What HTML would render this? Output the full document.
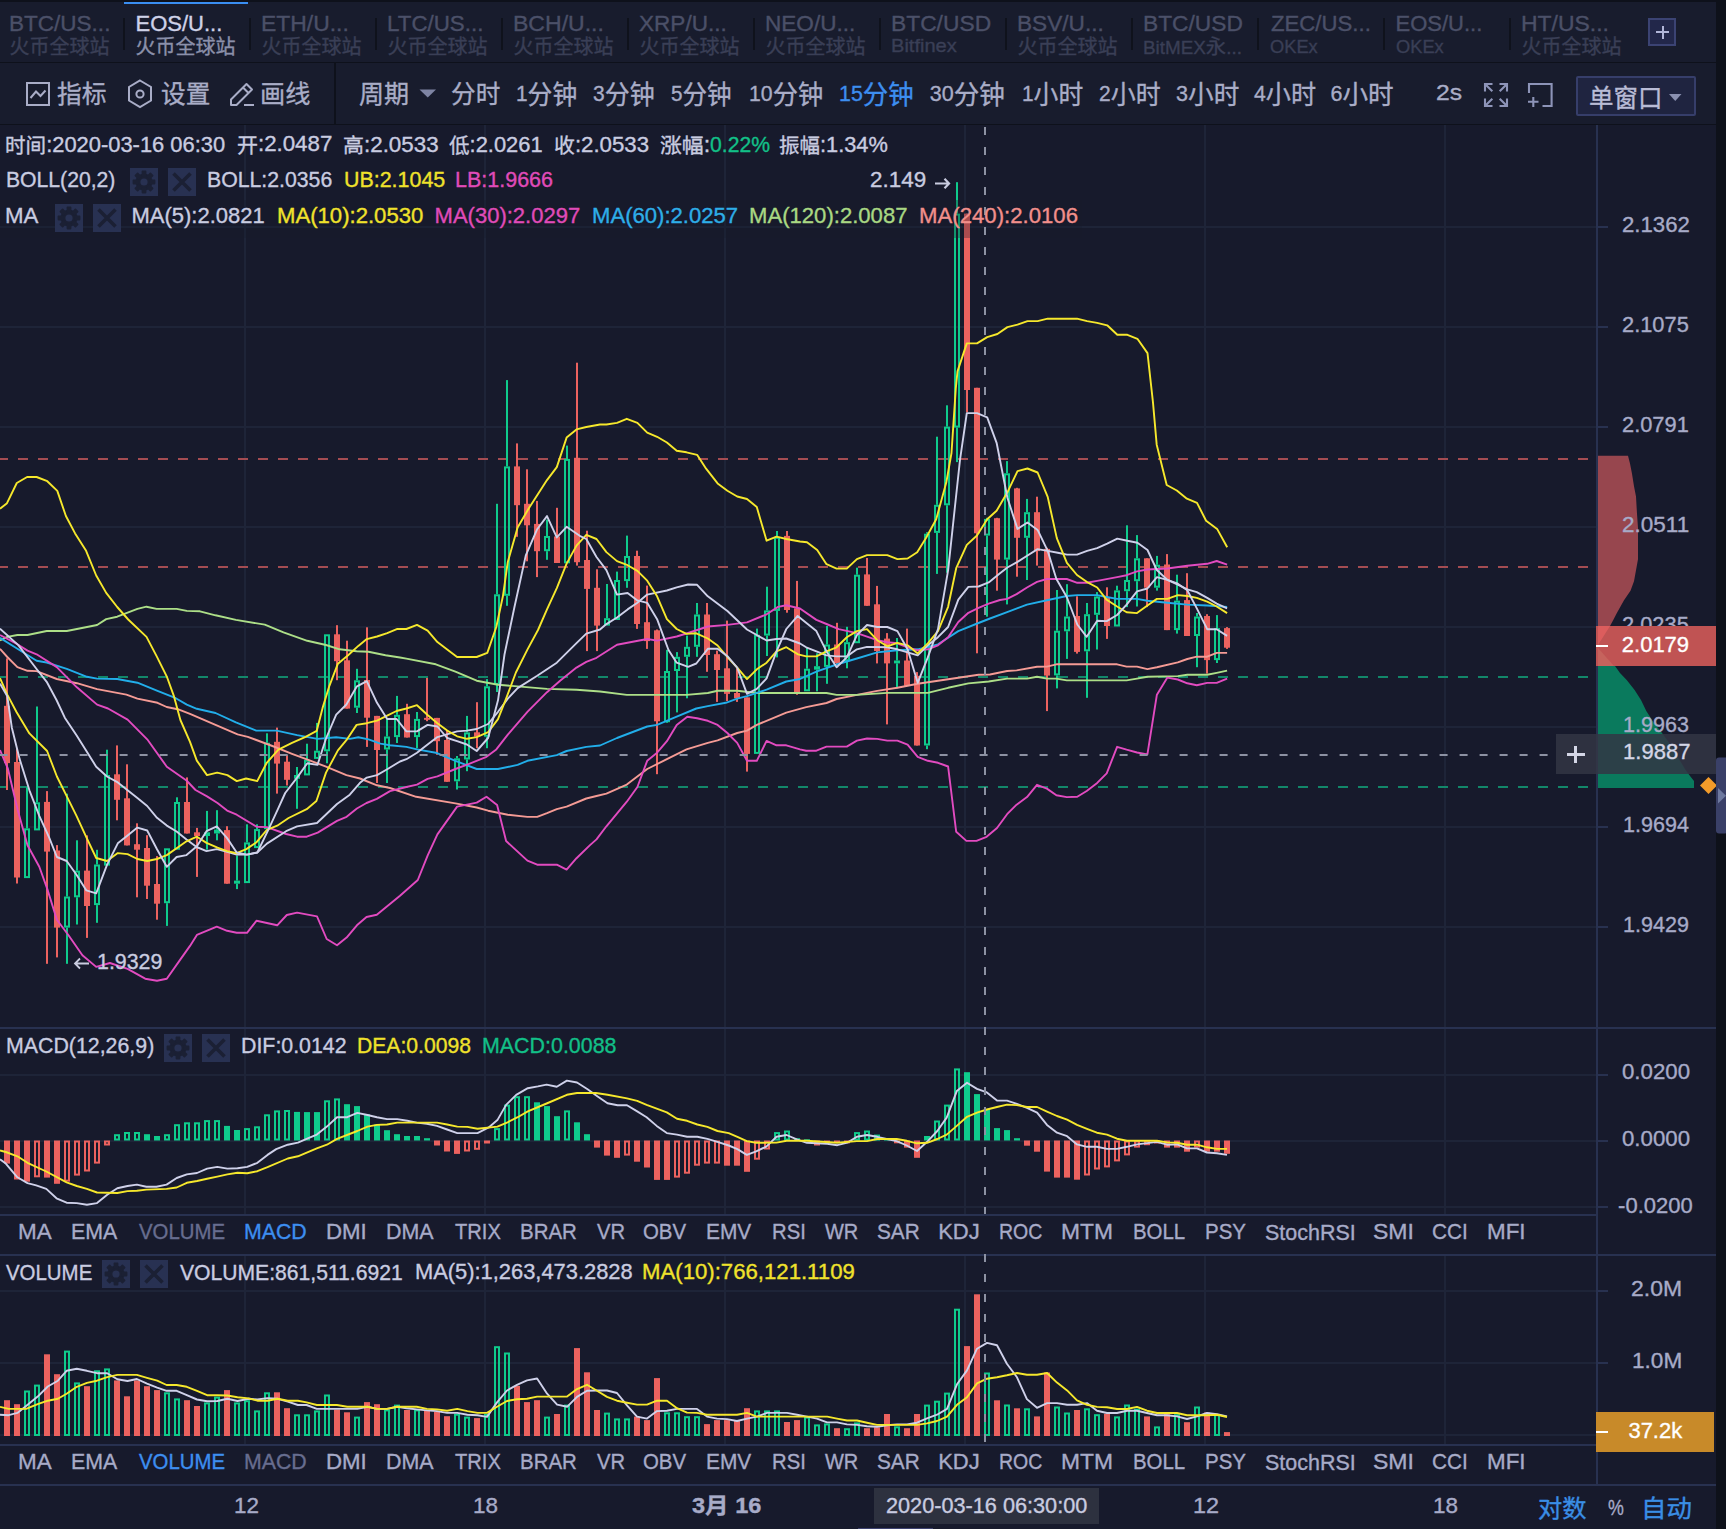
<!DOCTYPE html>
<html><head><meta charset="utf-8"><style>
*{margin:0;padding:0}
html,body{width:1726px;height:1529px;overflow:hidden;background:#171a2c}
body{position:relative;font-family:"Liberation Sans", "Noto Sans CJK SC", sans-serif}
.t{position:absolute;white-space:nowrap;line-height:1.25;font-family:"Liberation Sans", "Noto Sans CJK SC", sans-serif;transform-origin:0 0;-webkit-text-stroke:0.35px currentColor}
</style></head><body>
<div style="position:absolute;left:0px;top:0px;width:1726px;height:125px;background:#181c2d;"></div>
<div style="position:absolute;left:0px;top:0px;width:1726px;height:2px;background:#0e111b;"></div>
<div style="position:absolute;left:124px;top:2px;width:124px;height:2px;background:#3a8ef2;"></div>
<div class="t" style="left:9.48px;top:10.3px;font-size:22px;color:#4b5068;transform:scaleX(1.024);">BTC/US...</div>
<div class="t" style="left:9.5px;top:34.65px;font-size:20px;color:#3a3f56;">火币全球站</div>
<div class="t" style="left:135.5px;top:10.3px;font-size:22px;color:#cfd2e8;">EOS/U...</div>
<div class="t" style="left:135.5px;top:34.65px;font-size:20px;color:#8b90aa;">火币全球站</div>
<div class="t" style="left:261.46px;top:10.3px;font-size:22px;color:#4b5068;transform:scaleX(1.0415);">ETH/U...</div>
<div class="t" style="left:261.5px;top:34.65px;font-size:20px;color:#3a3f56;">火币全球站</div>
<div class="t" style="left:387.48px;top:10.3px;font-size:22px;color:#4b5068;transform:scaleX(1.0152);">LTC/US...</div>
<div class="t" style="left:387.5px;top:34.65px;font-size:20px;color:#3a3f56;">火币全球站</div>
<div class="t" style="left:513.45px;top:10.3px;font-size:22px;color:#4b5068;transform:scaleX(1.0476);">BCH/U...</div>
<div class="t" style="left:513.5px;top:34.65px;font-size:20px;color:#3a3f56;">火币全球站</div>
<div class="t" style="left:639.47px;top:10.3px;font-size:22px;color:#4b5068;transform:scaleX(1.0265);">XRP/U...</div>
<div class="t" style="left:639.5px;top:34.65px;font-size:20px;color:#3a3f56;">火币全球站</div>
<div class="t" style="left:765.47px;top:10.3px;font-size:22px;color:#4b5068;transform:scaleX(1.0259);">NEO/U...</div>
<div class="t" style="left:765.5px;top:34.65px;font-size:20px;color:#3a3f56;">火币全球站</div>
<div class="t" style="left:891.46px;top:10.3px;font-size:22px;color:#4b5068;transform:scaleX(1.0368);">BTC/USD</div>
<div class="t" style="left:891.41px;top:34.4px;font-size:18.5px;color:#3a3f56;transform:scaleX(1.085);">Bitfinex</div>
<div class="t" style="left:1017.47px;top:10.3px;font-size:22px;color:#4b5068;transform:scaleX(1.0293);">BSV/U...</div>
<div class="t" style="left:1017.5px;top:34.65px;font-size:20px;color:#3a3f56;">火币全球站</div>
<div class="t" style="left:1143.47px;top:10.3px;font-size:22px;color:#4b5068;transform:scaleX(1.0337);">BTC/USD</div>
<div class="t" style="left:1143.48px;top:34.5px;font-size:18.5px;color:#3a3f56;transform:scaleX(1.0189);">BitMEX<span style="font-size:1.08em;position:relative;top:0px">永</span>...</div>
<div class="t" style="left:1270.5px;top:10.3px;font-size:22px;color:#4b5068;transform:scaleX(1.0082);">ZEC/US...</div>
<div class="t" style="left:1269.51px;top:35.15px;font-size:18.5px;color:#3a3f56;transform:scaleX(0.9872);">OKEx</div>
<div class="t" style="left:1395.5px;top:10.3px;font-size:22px;color:#4b5068;">EOS/U...</div>
<div class="t" style="left:1395.51px;top:35.15px;font-size:18.5px;color:#3a3f56;transform:scaleX(0.9872);">OKEx</div>
<div class="t" style="left:1521.46px;top:10.3px;font-size:22px;color:#4b5068;transform:scaleX(1.0427);">HT/US...</div>
<div class="t" style="left:1521.5px;top:34.65px;font-size:20px;color:#3a3f56;">火币全球站</div>
<div style="position:absolute;left:123px;top:18px;width:2px;height:32px;background:#0f121c;"></div>
<div style="position:absolute;left:249px;top:18px;width:2px;height:32px;background:#0f121c;"></div>
<div style="position:absolute;left:375px;top:18px;width:2px;height:32px;background:#0f121c;"></div>
<div style="position:absolute;left:501px;top:18px;width:2px;height:32px;background:#0f121c;"></div>
<div style="position:absolute;left:627px;top:18px;width:2px;height:32px;background:#0f121c;"></div>
<div style="position:absolute;left:753px;top:18px;width:2px;height:32px;background:#0f121c;"></div>
<div style="position:absolute;left:879px;top:18px;width:2px;height:32px;background:#0f121c;"></div>
<div style="position:absolute;left:1005px;top:18px;width:2px;height:32px;background:#0f121c;"></div>
<div style="position:absolute;left:1131px;top:18px;width:2px;height:32px;background:#0f121c;"></div>
<div style="position:absolute;left:1257px;top:18px;width:2px;height:32px;background:#0f121c;"></div>
<div style="position:absolute;left:1383px;top:18px;width:2px;height:32px;background:#0f121c;"></div>
<div style="position:absolute;left:1509px;top:18px;width:2px;height:32px;background:#0f121c;"></div>
<div style="position:absolute;left:1648px;top:18px;width:28px;height:28px;background:#22274a;border:2px solid #3b4373;box-sizing:border-box"></div>
<div style="position:absolute;left:1656px;top:31px;width:13px;height:2px;background:#b0b5d8;"></div>
<div style="position:absolute;left:1661.5px;top:25.5px;width:2px;height:13px;background:#b0b5d8;"></div>
<div style="position:absolute;left:0px;top:62px;width:1726px;height:1px;background:#0e111b;"></div>
<div style="position:absolute;left:0px;top:124px;width:1726px;height:1px;background:#0e111b;"></div>
<div style="position:absolute;left:334px;top:63px;width:2px;height:61px;background:#0e111b;"></div>
<svg style="position:absolute;left:0;top:63px" width="340" height="61">
<rect x="27" y="20" width="22" height="22" fill="none" stroke="#a9adc7" stroke-width="2"/>
<polyline points="30.5,35 36,28.5 40.5,33 45.5,27.5" fill="none" stroke="#a9adc7" stroke-width="2"/>
<polygon points="140,17.5 151,24 151,37.5 140,44 129,37.5 129,24" fill="none" stroke="#a9adc7" stroke-width="2"/>
<circle cx="140" cy="31" r="3.6" fill="none" stroke="#a9adc7" stroke-width="2"/>
<path d="M231,42 L231,36.5 L246.5,21 L252,26.5 L236.5,42 Z M243,24.5 L248.5,30" fill="none" stroke="#a9adc7" stroke-width="2" stroke-linejoin="round"/>
<line x1="244" y1="42" x2="254" y2="42" stroke="#a9adc7" stroke-width="2"/>
</svg>
<div class="t" style="left:57.02px;top:79.45px;font-size:25.3px;color:#a9adc7;transform:scaleX(0.9796);">指标</div>
<div class="t" style="left:161.03px;top:78.95px;font-size:25.3px;color:#a9adc7;transform:scaleX(0.9735);">设置</div>
<div class="t" style="left:260.21px;top:79.45px;font-size:25.3px;color:#a9adc7;transform:scaleX(0.9937);">画线</div>
<div class="t" style="left:358.71px;top:78.95px;font-size:25.3px;color:#a9adc7;transform:scaleX(0.9917);">周期</div>
<div class="t" style="left:451.13px;top:79.45px;font-size:25.3px;color:#a9adc7;transform:scaleX(0.9735);">分时</div>
<div class="t" style="left:516.23px;top:76.95px;font-size:21.5px;color:#a9adc7;transform:scaleX(0.9689);">1<span style="font-size:1.19em;position:relative;top:3px">分钟</span></div>
<div class="t" style="left:593.12px;top:76.95px;font-size:21.5px;color:#a9adc7;transform:scaleX(0.977);">3<span style="font-size:1.19em;position:relative;top:3px">分钟</span></div>
<div class="t" style="left:671.24px;top:76.95px;font-size:21.5px;color:#a9adc7;transform:scaleX(0.9607);">5<span style="font-size:1.19em;position:relative;top:3px">分钟</span></div>
<div class="t" style="left:748.81px;top:76.95px;font-size:21.5px;color:#a9adc7;transform:scaleX(0.9877);">10<span style="font-size:1.19em;position:relative;top:3px">分钟</span></div>
<div class="t" style="left:929.8px;top:76.95px;font-size:21.5px;color:#a9adc7;">30<span style="font-size:1.19em;position:relative;top:3px">分钟</span></div>
<div class="t" style="left:1022.03px;top:77.45px;font-size:21.5px;color:#a9adc7;transform:scaleX(0.9689);">1<span style="font-size:1.19em;position:relative;top:3px">小时</span></div>
<div class="t" style="left:1098.52px;top:77.45px;font-size:21.5px;color:#a9adc7;transform:scaleX(0.977);">2<span style="font-size:1.19em;position:relative;top:3px">小时</span></div>
<div class="t" style="left:1175.5px;top:77.45px;font-size:21.5px;color:#a9adc7;transform:scaleX(1.0033);">3<span style="font-size:1.19em;position:relative;top:3px">小时</span></div>
<div class="t" style="left:1253.9px;top:77.45px;font-size:21.5px;color:#a9adc7;transform:scaleX(0.9823);">4<span style="font-size:1.19em;position:relative;top:3px">小时</span></div>
<div class="t" style="left:1330.5px;top:77.45px;font-size:21.5px;color:#a9adc7;">6<span style="font-size:1.19em;position:relative;top:3px">小时</span></div>
<div class="t" style="left:1435.85px;top:80.45px;font-size:21.5px;color:#a9adc7;transform:scaleX(1.1476);">2s</div>
<div class="t" style="left:839.41px;top:76.95px;font-size:21.5px;color:#3d8ef0;transform:scaleX(0.9945);">15<span style="font-size:1.19em;position:relative;top:3px">分钟</span></div>
<svg style="position:absolute;left:419px;top:89px" width="18" height="10"><polygon points="0.5,0.5 17,0.5 8.75,8.5" fill="#7e84a3"/></svg>
<svg style="position:absolute;left:1480px;top:80px" width="80" height="30">
<g stroke="#8d94b8" stroke-width="2.1" fill="none">
<path d="M5,11.5 L5,4 L12.5,4 M5,4 L12.3,11.3"/>
<path d="M27,11.5 L27,4 L19.5,4 M27,4 L19.7,11.3"/>
<path d="M5,18.5 L5,26 L12.5,26 M5,26 L12.3,18.7"/>
<path d="M27,18.5 L27,26 L19.5,26 M27,26 L19.7,18.7"/>
<path d="M49,13 L49,4 L71.6,4 L71.6,26 L62.5,26"/>
<path d="M53.3,17 L53.3,27 M48,21.8 L58.5,21.8"/>
</g></svg>
<div style="position:absolute;left:1576px;top:76px;width:120px;height:40px;background:#1f2440;border:2px solid #363e6a;box-sizing:border-box;border-radius:2px"></div>
<div class="t" style="left:1588.53px;top:83.35px;font-size:25.3px;color:#b9bcd6;transform:scaleX(0.9681);">单窗口</div>
<svg style="position:absolute;left:1669px;top:94px" width="14" height="8"><polygon points="0,0 12.5,0 6.25,7" fill="#8a90b0"/></svg>
<svg style="position:absolute;left:0;top:0" width="1726" height="1529"><rect x="244" y="125" width="2" height="902" fill="#1e2438"/><rect x="484" y="125" width="2" height="902" fill="#1e2438"/><rect x="724" y="125" width="2" height="902" fill="#1e2438"/><rect x="964" y="125" width="2" height="902" fill="#1e2438"/><rect x="1204" y="125" width="2" height="902" fill="#1e2438"/><rect x="1444" y="125" width="2" height="902" fill="#1e2438"/><rect x="244" y="1029" width="2" height="185" fill="#1e2438"/><rect x="484" y="1029" width="2" height="185" fill="#1e2438"/><rect x="724" y="1029" width="2" height="185" fill="#1e2438"/><rect x="964" y="1029" width="2" height="185" fill="#1e2438"/><rect x="1204" y="1029" width="2" height="185" fill="#1e2438"/><rect x="1444" y="1029" width="2" height="185" fill="#1e2438"/><rect x="244" y="1256" width="2" height="188" fill="#1e2438"/><rect x="484" y="1256" width="2" height="188" fill="#1e2438"/><rect x="724" y="1256" width="2" height="188" fill="#1e2438"/><rect x="964" y="1256" width="2" height="188" fill="#1e2438"/><rect x="1204" y="1256" width="2" height="188" fill="#1e2438"/><rect x="1444" y="1256" width="2" height="188" fill="#1e2438"/><rect x="0" y="226" width="1596" height="2" fill="#1e2438"/><rect x="1596" y="226" width="12" height="2" fill="#283150"/><rect x="0" y="326" width="1596" height="2" fill="#1e2438"/><rect x="1596" y="326" width="12" height="2" fill="#283150"/><rect x="0" y="426" width="1596" height="2" fill="#1e2438"/><rect x="1596" y="426" width="12" height="2" fill="#283150"/><rect x="0" y="526" width="1596" height="2" fill="#1e2438"/><rect x="1596" y="526" width="12" height="2" fill="#283150"/><rect x="0" y="626" width="1596" height="2" fill="#1e2438"/><rect x="1596" y="626" width="12" height="2" fill="#283150"/><rect x="0" y="726" width="1596" height="2" fill="#1e2438"/><rect x="1596" y="726" width="12" height="2" fill="#283150"/><rect x="0" y="826" width="1596" height="2" fill="#1e2438"/><rect x="1596" y="826" width="12" height="2" fill="#283150"/><rect x="0" y="926" width="1596" height="2" fill="#1e2438"/><rect x="1596" y="926" width="12" height="2" fill="#283150"/><rect x="0" y="1074" width="1596" height="2" fill="#1e2438"/><rect x="1596" y="1074" width="12" height="2" fill="#283150"/><rect x="0" y="1140" width="1596" height="2" fill="#1e2438"/><rect x="1596" y="1140" width="12" height="2" fill="#283150"/><rect x="0" y="1206" width="1596" height="2" fill="#1e2438"/><rect x="1596" y="1206" width="12" height="2" fill="#283150"/><rect x="0" y="1290" width="1596" height="2" fill="#1e2438"/><rect x="1596" y="1290" width="12" height="2" fill="#283150"/><rect x="0" y="1362" width="1596" height="2" fill="#1e2438"/><rect x="1596" y="1362" width="12" height="2" fill="#283150"/><rect x="0" y="1434" width="1596" height="2" fill="#1e2438"/><rect x="1596" y="1434" width="12" height="2" fill="#283150"/><rect x="0" y="1027" width="1716" height="2" fill="#283150"/><rect x="0" y="1214" width="1596" height="2" fill="#283150"/><rect x="0" y="1254" width="1716" height="2" fill="#283150"/><rect x="0" y="1444" width="1596" height="2" fill="#283150"/><rect x="0" y="1484" width="1716" height="2" fill="#283150"/><rect x="1596" y="125" width="2" height="1360" fill="#283150"/><rect x="1716" y="0" width="10" height="1529" fill="#0e111a"/><polygon points="1598.0,455.7 1628.0,455.7 1630.0,463.6 1632.0,473.8 1634.0,486.3 1636.0,496.5 1637.0,513.8 1638.0,527.9 1638.0,559.3 1636.0,570.3 1634.0,581.3 1630.5,590.7 1624.0,600.2 1617.0,612.7 1613.0,620.6 1610.0,626.0 1598.0,626.0" fill="#97464e"/><polygon points="1598.0,666.0 1615.0,666.0 1620.0,673.0 1626.7,680.0 1634.6,690.0 1641.0,700.0 1646.3,711.0 1654.0,723.0 1662.0,733.0 1670.0,744.0 1677.7,757.0 1685.6,770.0 1690.8,777.0 1694.0,781.0 1694.0,788.0 1598.0,788.0" fill="#0a7a5d"/><line x1="0" y1="459" x2="1592" y2="459" stroke="#a44c52" stroke-width="2" stroke-dasharray="10 10" stroke-dashoffset="2"/><line x1="0" y1="567" x2="1592" y2="567" stroke="#a44c52" stroke-width="2" stroke-dasharray="10 10" stroke-dashoffset="2"/><line x1="0" y1="677" x2="1592" y2="677" stroke="#12876a" stroke-width="2" stroke-dasharray="10 10" stroke-dashoffset="2"/><line x1="0" y1="787" x2="1592" y2="787" stroke="#12876a" stroke-width="2" stroke-dasharray="10 10" stroke-dashoffset="2"/><rect x="6" y="658.4" width="2" height="131.6" fill="#ec625f"/><rect x="4" y="705.8" width="6" height="57.3" fill="#ec625f"/><rect x="16" y="749.0" width="2" height="134.5" fill="#ec625f"/><rect x="14" y="762.0" width="6" height="115.5" fill="#ec625f"/><rect x="26" y="787.5" width="2" height="40.8" fill="#0fcb8c"/><rect x="25" y="829.3" width="4" height="47.8" fill="none" stroke="#0fcb8c" stroke-width="2"/><rect x="36" y="706.5" width="2" height="95.8" fill="#0fcb8c"/><rect x="35" y="803.3" width="4" height="26.1" fill="none" stroke="#0fcb8c" stroke-width="2"/><rect x="46" y="791.1" width="2" height="172.7" fill="#ec625f"/><rect x="44" y="801.9" width="6" height="49.7" fill="#ec625f"/><rect x="56" y="845.1" width="2" height="112.3" fill="#ec625f"/><rect x="54" y="850.5" width="6" height="77.1" fill="#ec625f"/><rect x="66" y="793.7" width="2" height="102.8" fill="#0fcb8c"/><rect x="66" y="927.6" width="2" height="36.2" fill="#0fcb8c"/><rect x="65" y="897.5" width="4" height="29.1" fill="none" stroke="#0fcb8c" stroke-width="2"/><rect x="76" y="840.3" width="2" height="30.3" fill="#0fcb8c"/><rect x="76" y="897.3" width="2" height="27.2" fill="#0fcb8c"/><rect x="75" y="871.6" width="4" height="24.7" fill="none" stroke="#0fcb8c" stroke-width="2"/><rect x="86" y="835.4" width="2" height="102.5" fill="#ec625f"/><rect x="84" y="870.6" width="6" height="35.4" fill="#ec625f"/><rect x="96" y="849.8" width="2" height="14.7" fill="#0fcb8c"/><rect x="96" y="905.1" width="2" height="17.7" fill="#0fcb8c"/><rect x="95" y="865.5" width="4" height="38.6" fill="none" stroke="#0fcb8c" stroke-width="2"/><rect x="106" y="749.7" width="2" height="25.3" fill="#0fcb8c"/><rect x="105" y="776.0" width="4" height="88.6" fill="none" stroke="#0fcb8c" stroke-width="2"/><rect x="116" y="745.4" width="2" height="74.9" fill="#ec625f"/><rect x="114" y="774.3" width="6" height="25.5" fill="#ec625f"/><rect x="126" y="764.3" width="2" height="81.1" fill="#ec625f"/><rect x="124" y="798.3" width="6" height="47.1" fill="#ec625f"/><rect x="136" y="823.3" width="2" height="74.0" fill="#ec625f"/><rect x="134" y="844.2" width="6" height="5.5" fill="#ec625f"/><rect x="146" y="835.2" width="2" height="63.8" fill="#ec625f"/><rect x="144" y="848.0" width="6" height="37.7" fill="#ec625f"/><rect x="156" y="856.1" width="2" height="63.6" fill="#ec625f"/><rect x="154" y="884.0" width="6" height="19.7" fill="#ec625f"/><rect x="166" y="903.2" width="2" height="22.7" fill="#0fcb8c"/><rect x="165" y="849.3" width="4" height="52.9" fill="none" stroke="#0fcb8c" stroke-width="2"/><rect x="176" y="797.3" width="2" height="4.7" fill="#0fcb8c"/><rect x="175" y="803.0" width="4" height="45.7" fill="none" stroke="#0fcb8c" stroke-width="2"/><rect x="186" y="777.4" width="2" height="56.1" fill="#ec625f"/><rect x="184" y="802.0" width="6" height="31.5" fill="#ec625f"/><rect x="196" y="827.9" width="2" height="49.0" fill="#ec625f"/><rect x="194" y="832.3" width="6" height="3.7" fill="#ec625f"/><rect x="206" y="810.9" width="2" height="21.4" fill="#0fcb8c"/><rect x="206" y="836.0" width="2" height="13.7" fill="#0fcb8c"/><rect x="204" y="832.3" width="6" height="3.7" fill="#0fcb8c"/><rect x="216" y="810.2" width="2" height="19.4" fill="#0fcb8c"/><rect x="216" y="833.5" width="2" height="6.8" fill="#0fcb8c"/><rect x="214" y="829.6" width="6" height="3.9" fill="#0fcb8c"/><rect x="226" y="826.2" width="2" height="57.5" fill="#ec625f"/><rect x="224" y="830.1" width="6" height="53.6" fill="#ec625f"/><rect x="236" y="855.5" width="2" height="25.1" fill="#0fcb8c"/><rect x="236" y="883.7" width="2" height="5.4" fill="#0fcb8c"/><rect x="234" y="880.6" width="6" height="3.1" fill="#0fcb8c"/><rect x="246" y="824.3" width="2" height="18.1" fill="#0fcb8c"/><rect x="245" y="843.4" width="4" height="38.7" fill="none" stroke="#0fcb8c" stroke-width="2"/><rect x="256" y="824.3" width="2" height="4.8" fill="#0fcb8c"/><rect x="255" y="830.1" width="4" height="17.0" fill="none" stroke="#0fcb8c" stroke-width="2"/><rect x="266" y="733.3" width="2" height="9.5" fill="#0fcb8c"/><rect x="265" y="743.8" width="4" height="84.3" fill="none" stroke="#0fcb8c" stroke-width="2"/><rect x="276" y="727.6" width="2" height="66.0" fill="#ec625f"/><rect x="274" y="741.8" width="6" height="21.8" fill="#ec625f"/><rect x="286" y="755.1" width="2" height="30.4" fill="#ec625f"/><rect x="284" y="761.7" width="6" height="18.1" fill="#ec625f"/><rect x="296" y="767.0" width="2" height="8.0" fill="#0fcb8c"/><rect x="296" y="778.8" width="2" height="30.0" fill="#0fcb8c"/><rect x="294" y="775.0" width="6" height="3.8" fill="#0fcb8c"/><rect x="306" y="743.7" width="2" height="16.1" fill="#0fcb8c"/><rect x="305" y="760.8" width="4" height="13.6" fill="none" stroke="#0fcb8c" stroke-width="2"/><rect x="316" y="722.9" width="2" height="27.8" fill="#0fcb8c"/><rect x="315" y="751.7" width="4" height="6.2" fill="none" stroke="#0fcb8c" stroke-width="2"/><rect x="326" y="751.3" width="2" height="12.0" fill="#0fcb8c"/><rect x="325" y="635.3" width="4" height="115.0" fill="none" stroke="#0fcb8c" stroke-width="2"/><rect x="336" y="625.2" width="2" height="55.0" fill="#ec625f"/><rect x="334" y="634.3" width="6" height="26.9" fill="#ec625f"/><rect x="346" y="640.7" width="2" height="67.9" fill="#ec625f"/><rect x="344" y="660.3" width="6" height="48.3" fill="#ec625f"/><rect x="356" y="668.8" width="2" height="11.5" fill="#0fcb8c"/><rect x="356" y="707.7" width="2" height="5.3" fill="#0fcb8c"/><rect x="355" y="681.3" width="4" height="25.4" fill="none" stroke="#0fcb8c" stroke-width="2"/><rect x="366" y="627.3" width="2" height="119.6" fill="#ec625f"/><rect x="364" y="680.0" width="6" height="37.7" fill="#ec625f"/><rect x="376" y="715.9" width="2" height="67.1" fill="#ec625f"/><rect x="374" y="715.9" width="6" height="34.1" fill="#ec625f"/><rect x="386" y="718.9" width="2" height="17.6" fill="#0fcb8c"/><rect x="386" y="749.5" width="2" height="33.5" fill="#0fcb8c"/><rect x="385" y="737.5" width="4" height="11.0" fill="none" stroke="#0fcb8c" stroke-width="2"/><rect x="396" y="695.9" width="2" height="18.9" fill="#0fcb8c"/><rect x="396" y="737.1" width="2" height="5.9" fill="#0fcb8c"/><rect x="395" y="715.8" width="4" height="20.3" fill="none" stroke="#0fcb8c" stroke-width="2"/><rect x="406" y="703.8" width="2" height="33.7" fill="#ec625f"/><rect x="404" y="714.2" width="6" height="23.3" fill="#ec625f"/><rect x="416" y="712.0" width="2" height="6.9" fill="#0fcb8c"/><rect x="416" y="737.1" width="2" height="11.2" fill="#0fcb8c"/><rect x="415" y="719.9" width="4" height="16.2" fill="none" stroke="#0fcb8c" stroke-width="2"/><rect x="426" y="677.9" width="2" height="43.3" fill="#ec625f"/><rect x="424" y="717.9" width="6" height="1.9" fill="#ec625f"/><rect x="436" y="717.9" width="2" height="36.9" fill="#ec625f"/><rect x="434" y="717.9" width="6" height="23.3" fill="#ec625f"/><rect x="446" y="730.6" width="2" height="51.2" fill="#ec625f"/><rect x="444" y="740.0" width="6" height="41.8" fill="#ec625f"/><rect x="456" y="756.0" width="2" height="2.3" fill="#0fcb8c"/><rect x="456" y="781.3" width="2" height="8.2" fill="#0fcb8c"/><rect x="455" y="759.3" width="4" height="21.0" fill="none" stroke="#0fcb8c" stroke-width="2"/><rect x="466" y="715.9" width="2" height="16.5" fill="#0fcb8c"/><rect x="466" y="759.5" width="2" height="11.7" fill="#0fcb8c"/><rect x="465" y="733.4" width="4" height="25.1" fill="none" stroke="#0fcb8c" stroke-width="2"/><rect x="476" y="702.2" width="2" height="46.0" fill="#ec625f"/><rect x="474" y="732.3" width="6" height="4.4" fill="#ec625f"/><rect x="486" y="679.1" width="2" height="7.2" fill="#0fcb8c"/><rect x="486" y="736.7" width="2" height="11.5" fill="#0fcb8c"/><rect x="485" y="687.3" width="4" height="48.4" fill="none" stroke="#0fcb8c" stroke-width="2"/><rect x="496" y="503.8" width="2" height="90.5" fill="#0fcb8c"/><rect x="496" y="684.9" width="2" height="7.1" fill="#0fcb8c"/><rect x="495" y="595.3" width="4" height="88.6" fill="none" stroke="#0fcb8c" stroke-width="2"/><rect x="506" y="380.1" width="2" height="86.3" fill="#0fcb8c"/><rect x="506" y="595.8" width="2" height="10.0" fill="#0fcb8c"/><rect x="505" y="467.4" width="4" height="127.4" fill="none" stroke="#0fcb8c" stroke-width="2"/><rect x="516" y="443.4" width="2" height="93.4" fill="#ec625f"/><rect x="514" y="466.4" width="6" height="38.8" fill="#ec625f"/><rect x="526" y="469.3" width="2" height="92.0" fill="#ec625f"/><rect x="524" y="503.8" width="6" height="21.5" fill="#ec625f"/><rect x="536" y="500.9" width="2" height="76.2" fill="#ec625f"/><rect x="534" y="523.9" width="6" height="27.3" fill="#ec625f"/><rect x="546" y="519.6" width="2" height="16.4" fill="#0fcb8c"/><rect x="546" y="551.2" width="2" height="8.6" fill="#0fcb8c"/><rect x="545" y="537.0" width="4" height="13.2" fill="none" stroke="#0fcb8c" stroke-width="2"/><rect x="556" y="507.8" width="2" height="55.2" fill="#ec625f"/><rect x="554" y="536.5" width="6" height="26.5" fill="#ec625f"/><rect x="566" y="445.6" width="2" height="13.3" fill="#0fcb8c"/><rect x="565" y="459.9" width="4" height="102.4" fill="none" stroke="#0fcb8c" stroke-width="2"/><rect x="576" y="362.7" width="2" height="202.9" fill="#ec625f"/><rect x="574" y="457.8" width="6" height="104.4" fill="#ec625f"/><rect x="586" y="530.7" width="2" height="120.4" fill="#ec625f"/><rect x="584" y="560.0" width="6" height="28.9" fill="#ec625f"/><rect x="596" y="569.3" width="2" height="81.8" fill="#ec625f"/><rect x="594" y="587.8" width="6" height="37.8" fill="#ec625f"/><rect x="606" y="584.0" width="2" height="34.2" fill="#0fcb8c"/><rect x="605" y="619.2" width="4" height="5.4" fill="none" stroke="#0fcb8c" stroke-width="2"/><rect x="616" y="571.6" width="2" height="8.4" fill="#0fcb8c"/><rect x="615" y="581.0" width="4" height="38.0" fill="none" stroke="#0fcb8c" stroke-width="2"/><rect x="626" y="535.6" width="2" height="20.4" fill="#0fcb8c"/><rect x="626" y="581.1" width="2" height="6.7" fill="#0fcb8c"/><rect x="625" y="557.0" width="4" height="23.1" fill="none" stroke="#0fcb8c" stroke-width="2"/><rect x="636" y="550.7" width="2" height="78.2" fill="#ec625f"/><rect x="634" y="556.0" width="6" height="68.0" fill="#ec625f"/><rect x="646" y="585.6" width="2" height="63.3" fill="#ec625f"/><rect x="644" y="622.2" width="6" height="18.9" fill="#ec625f"/><rect x="656" y="629.5" width="2" height="144.7" fill="#ec625f"/><rect x="654" y="630.3" width="6" height="91.0" fill="#ec625f"/><rect x="666" y="649.8" width="2" height="21.2" fill="#0fcb8c"/><rect x="666" y="722.2" width="2" height="0.8" fill="#0fcb8c"/><rect x="665" y="672.0" width="4" height="49.2" fill="none" stroke="#0fcb8c" stroke-width="2"/><rect x="676" y="652.1" width="2" height="4.7" fill="#0fcb8c"/><rect x="676" y="671.0" width="2" height="41.4" fill="#0fcb8c"/><rect x="675" y="657.8" width="4" height="12.2" fill="none" stroke="#0fcb8c" stroke-width="2"/><rect x="686" y="635.6" width="2" height="11.2" fill="#0fcb8c"/><rect x="686" y="656.8" width="2" height="41.5" fill="#0fcb8c"/><rect x="685" y="647.8" width="4" height="8.0" fill="none" stroke="#0fcb8c" stroke-width="2"/><rect x="696" y="603.0" width="2" height="11.5" fill="#0fcb8c"/><rect x="696" y="646.8" width="2" height="10.0" fill="#0fcb8c"/><rect x="695" y="615.5" width="4" height="30.3" fill="none" stroke="#0fcb8c" stroke-width="2"/><rect x="706" y="603.0" width="2" height="68.8" fill="#ec625f"/><rect x="704" y="614.5" width="6" height="40.5" fill="#ec625f"/><rect x="716" y="650.6" width="2" height="51.3" fill="#ec625f"/><rect x="714" y="654.2" width="6" height="15.8" fill="#ec625f"/><rect x="726" y="620.6" width="2" height="80.4" fill="#ec625f"/><rect x="724" y="668.3" width="6" height="25.6" fill="#ec625f"/><rect x="736" y="668.3" width="2" height="33.6" fill="#ec625f"/><rect x="734" y="693.0" width="6" height="5.3" fill="#ec625f"/><rect x="746" y="697.4" width="2" height="74.2" fill="#ec625f"/><rect x="744" y="697.4" width="6" height="56.5" fill="#ec625f"/><rect x="756" y="628.6" width="2" height="6.2" fill="#0fcb8c"/><rect x="755" y="635.8" width="4" height="117.1" fill="none" stroke="#0fcb8c" stroke-width="2"/><rect x="766" y="586.7" width="2" height="23.7" fill="#0fcb8c"/><rect x="766" y="635.6" width="2" height="20.4" fill="#0fcb8c"/><rect x="765" y="611.4" width="4" height="23.2" fill="none" stroke="#0fcb8c" stroke-width="2"/><rect x="776" y="531.0" width="2" height="5.8" fill="#0fcb8c"/><rect x="776" y="610.9" width="2" height="46.5" fill="#0fcb8c"/><rect x="775" y="537.8" width="4" height="72.1" fill="none" stroke="#0fcb8c" stroke-width="2"/><rect x="786" y="531.0" width="2" height="81.7" fill="#ec625f"/><rect x="784" y="535.9" width="6" height="74.1" fill="#ec625f"/><rect x="796" y="580.9" width="2" height="113.9" fill="#ec625f"/><rect x="794" y="608.3" width="6" height="83.8" fill="#ec625f"/><rect x="806" y="648.0" width="2" height="20.7" fill="#0fcb8c"/><rect x="805" y="669.7" width="4" height="20.6" fill="none" stroke="#0fcb8c" stroke-width="2"/><rect x="816" y="653.3" width="2" height="12.9" fill="#0fcb8c"/><rect x="816" y="669.7" width="2" height="21.6" fill="#0fcb8c"/><rect x="814" y="666.2" width="6" height="3.5" fill="#0fcb8c"/><rect x="826" y="625.9" width="2" height="18.6" fill="#0fcb8c"/><rect x="826" y="666.9" width="2" height="16.9" fill="#0fcb8c"/><rect x="825" y="645.5" width="4" height="20.4" fill="none" stroke="#0fcb8c" stroke-width="2"/><rect x="836" y="622.8" width="2" height="42.0" fill="#ec625f"/><rect x="834" y="644.5" width="6" height="18.5" fill="#ec625f"/><rect x="846" y="626.8" width="2" height="15.4" fill="#0fcb8c"/><rect x="846" y="661.2" width="2" height="7.1" fill="#0fcb8c"/><rect x="845" y="643.2" width="4" height="17.0" fill="none" stroke="#0fcb8c" stroke-width="2"/><rect x="856" y="567.7" width="2" height="7.0" fill="#0fcb8c"/><rect x="855" y="575.7" width="4" height="66.5" fill="none" stroke="#0fcb8c" stroke-width="2"/><rect x="866" y="558.0" width="2" height="47.8" fill="#ec625f"/><rect x="864" y="574.4" width="6" height="31.4" fill="#ec625f"/><rect x="876" y="585.9" width="2" height="77.5" fill="#ec625f"/><rect x="874" y="604.3" width="6" height="46.7" fill="#ec625f"/><rect x="886" y="633.1" width="2" height="91.3" fill="#ec625f"/><rect x="884" y="638.6" width="6" height="24.8" fill="#ec625f"/><rect x="896" y="638.0" width="2" height="22.5" fill="#0fcb8c"/><rect x="896" y="663.4" width="2" height="24.9" fill="#0fcb8c"/><rect x="894" y="660.5" width="6" height="2.9" fill="#0fcb8c"/><rect x="906" y="628.6" width="2" height="57.2" fill="#ec625f"/><rect x="904" y="660.5" width="6" height="25.3" fill="#ec625f"/><rect x="916" y="672.1" width="2" height="73.4" fill="#ec625f"/><rect x="914" y="675.9" width="6" height="69.6" fill="#ec625f"/><rect x="926" y="532.2" width="2" height="1.5" fill="#0fcb8c"/><rect x="926" y="745.5" width="2" height="3.7" fill="#0fcb8c"/><rect x="925" y="534.7" width="4" height="209.8" fill="none" stroke="#0fcb8c" stroke-width="2"/><rect x="936" y="436.7" width="2" height="68.1" fill="#0fcb8c"/><rect x="936" y="532.9" width="2" height="41.0" fill="#0fcb8c"/><rect x="935" y="505.8" width="4" height="26.1" fill="none" stroke="#0fcb8c" stroke-width="2"/><rect x="946" y="405.3" width="2" height="21.3" fill="#0fcb8c"/><rect x="946" y="505.3" width="2" height="67.4" fill="#0fcb8c"/><rect x="945" y="427.6" width="4" height="76.7" fill="none" stroke="#0fcb8c" stroke-width="2"/><rect x="956" y="182.2" width="2" height="31.4" fill="#0fcb8c"/><rect x="956" y="427.6" width="2" height="34.5" fill="#0fcb8c"/><rect x="955" y="214.6" width="4" height="212.0" fill="none" stroke="#0fcb8c" stroke-width="2"/><rect x="966" y="213.6" width="2" height="198.8" fill="#ec625f"/><rect x="964" y="213.6" width="6" height="176.4" fill="#ec625f"/><rect x="976" y="387.8" width="2" height="265.5" fill="#ec625f"/><rect x="974" y="387.8" width="6" height="145.5" fill="#ec625f"/><rect x="986" y="517.8" width="2" height="1.1" fill="#0fcb8c"/><rect x="986" y="535.6" width="2" height="81.1" fill="#0fcb8c"/><rect x="985" y="519.9" width="4" height="14.7" fill="none" stroke="#0fcb8c" stroke-width="2"/><rect x="996" y="517.8" width="2" height="72.9" fill="#ec625f"/><rect x="994" y="518.2" width="6" height="41.4" fill="#ec625f"/><rect x="1006" y="461.1" width="2" height="12.2" fill="#0fcb8c"/><rect x="1006" y="559.6" width="2" height="44.8" fill="#0fcb8c"/><rect x="1005" y="474.3" width="4" height="84.3" fill="none" stroke="#0fcb8c" stroke-width="2"/><rect x="1016" y="487.8" width="2" height="88.9" fill="#ec625f"/><rect x="1014" y="488.4" width="6" height="49.4" fill="#ec625f"/><rect x="1026" y="498.9" width="2" height="13.3" fill="#0fcb8c"/><rect x="1026" y="537.8" width="2" height="42.2" fill="#0fcb8c"/><rect x="1025" y="513.2" width="4" height="23.6" fill="none" stroke="#0fcb8c" stroke-width="2"/><rect x="1036" y="496.7" width="2" height="68.9" fill="#ec625f"/><rect x="1034" y="512.2" width="6" height="38.9" fill="#ec625f"/><rect x="1046" y="547.8" width="2" height="163.3" fill="#ec625f"/><rect x="1044" y="548.9" width="6" height="126.7" fill="#ec625f"/><rect x="1056" y="590.0" width="2" height="40.7" fill="#0fcb8c"/><rect x="1056" y="675.4" width="2" height="13.0" fill="#0fcb8c"/><rect x="1055" y="631.7" width="4" height="42.7" fill="none" stroke="#0fcb8c" stroke-width="2"/><rect x="1066" y="584.2" width="2" height="32.3" fill="#0fcb8c"/><rect x="1066" y="631.3" width="2" height="27.6" fill="#0fcb8c"/><rect x="1065" y="617.5" width="4" height="12.8" fill="none" stroke="#0fcb8c" stroke-width="2"/><rect x="1076" y="596.3" width="2" height="57.3" fill="#ec625f"/><rect x="1074" y="616.0" width="6" height="35.9" fill="#ec625f"/><rect x="1086" y="603.0" width="2" height="11.2" fill="#0fcb8c"/><rect x="1086" y="651.3" width="2" height="46.5" fill="#0fcb8c"/><rect x="1085" y="615.2" width="4" height="35.1" fill="none" stroke="#0fcb8c" stroke-width="2"/><rect x="1096" y="592.1" width="2" height="4.4" fill="#0fcb8c"/><rect x="1096" y="614.8" width="2" height="34.7" fill="#0fcb8c"/><rect x="1095" y="597.5" width="4" height="16.3" fill="none" stroke="#0fcb8c" stroke-width="2"/><rect x="1106" y="587.3" width="2" height="51.6" fill="#ec625f"/><rect x="1104" y="597.7" width="6" height="28.3" fill="#ec625f"/><rect x="1116" y="585.7" width="2" height="4.7" fill="#0fcb8c"/><rect x="1115" y="591.4" width="4" height="34.1" fill="none" stroke="#0fcb8c" stroke-width="2"/><rect x="1126" y="525.3" width="2" height="54.7" fill="#0fcb8c"/><rect x="1126" y="591.2" width="2" height="15.9" fill="#0fcb8c"/><rect x="1125" y="581.0" width="4" height="9.2" fill="none" stroke="#0fcb8c" stroke-width="2"/><rect x="1136" y="535.1" width="2" height="23.2" fill="#0fcb8c"/><rect x="1136" y="581.2" width="2" height="25.3" fill="#0fcb8c"/><rect x="1135" y="559.3" width="4" height="20.9" fill="none" stroke="#0fcb8c" stroke-width="2"/><rect x="1146" y="558.3" width="2" height="48.8" fill="#ec625f"/><rect x="1144" y="558.3" width="6" height="29.4" fill="#ec625f"/><rect x="1156" y="555.9" width="2" height="8.8" fill="#0fcb8c"/><rect x="1156" y="587.7" width="2" height="2.9" fill="#0fcb8c"/><rect x="1155" y="565.7" width="4" height="21.0" fill="none" stroke="#0fcb8c" stroke-width="2"/><rect x="1166" y="554.1" width="2" height="76.0" fill="#ec625f"/><rect x="1164" y="564.5" width="6" height="65.6" fill="#ec625f"/><rect x="1176" y="574.7" width="2" height="25.9" fill="#0fcb8c"/><rect x="1176" y="630.1" width="2" height="3.5" fill="#0fcb8c"/><rect x="1175" y="601.6" width="4" height="27.5" fill="none" stroke="#0fcb8c" stroke-width="2"/><rect x="1186" y="573.2" width="2" height="62.8" fill="#ec625f"/><rect x="1184" y="600.1" width="6" height="35.9" fill="#ec625f"/><rect x="1196" y="613.0" width="2" height="3.5" fill="#0fcb8c"/><rect x="1196" y="636.0" width="2" height="31.2" fill="#0fcb8c"/><rect x="1195" y="617.5" width="4" height="17.5" fill="none" stroke="#0fcb8c" stroke-width="2"/><rect x="1206" y="614.2" width="2" height="59.4" fill="#ec625f"/><rect x="1204" y="616.0" width="6" height="44.1" fill="#ec625f"/><rect x="1216" y="615.1" width="2" height="13.0" fill="#0fcb8c"/><rect x="1216" y="660.1" width="2" height="2.9" fill="#0fcb8c"/><rect x="1215" y="629.1" width="4" height="30.0" fill="none" stroke="#0fcb8c" stroke-width="2"/><rect x="1226" y="627.1" width="2" height="21.8" fill="#ec625f"/><rect x="1224" y="628.1" width="6" height="19.6" fill="#ec625f"/><polyline points="0.0,648.8 7.3,657.0 17.4,667.1 27.5,670.8 36.6,671.1 56.8,679.0 76.9,683.2 97.1,689.1 126.4,694.6 137.4,698.6 157.5,702.8 166.7,707.0 177.7,709.2 190.0,713.9 215.5,724.9 237.6,734.3 247.8,736.8 275.0,747.0 292.0,753.8 305.6,758.9 326.0,766.6 346.4,775.1 360.0,778.5 377.0,785.3 390.0,788.0 416.2,796.8 455.4,803.4 476.7,807.5 488.1,810.7 507.8,814.8 527.4,816.9 537.2,816.9 547.0,813.2 556.8,809.1 566.6,806.6 586.3,798.5 596.5,796.0 606.4,793.6 626.8,784.6 647.2,769.0 666.9,759.2 686.5,749.4 707.8,742.9 717.6,740.4 737.2,733.0 747.0,730.6 756.8,724.9 786.3,712.6 806.2,707.1 826.5,703.0 836.6,699.0 856.9,694.9 877.2,690.9 897.4,687.8 917.7,683.8 938.0,680.8 958.3,677.7 978.5,674.7 990.0,674.5 1007.1,671.0 1016.6,670.4 1037.0,666.8 1046.9,666.6 1056.4,664.3 1117.1,664.3 1126.6,666.6 1137.0,666.6 1147.4,669.1 1156.9,667.2 1177.8,662.4 1187.3,659.0 1196.8,656.7 1207.2,656.7 1216.7,652.9 1227.1,652.9" fill="none" stroke="#f59b95" stroke-width="1.9" stroke-linejoin="round"/><polyline points="0.0,640.5 7.3,636.9 17.4,635.0 27.5,635.0 46.7,631.0 66.8,631.0 97.1,625.0 106.2,619.1 117.2,616.7 137.4,608.9 146.5,606.7 156.6,608.9 176.7,608.9 186.8,610.9 200.0,611.3 215.5,615.3 235.9,619.9 264.8,624.6 283.5,632.3 307.3,640.8 326.0,645.0 339.6,649.3 356.6,651.3 368.5,651.8 385.5,655.2 400.0,657.5 406.4,658.6 435.8,664.3 455.4,671.7 476.7,680.7 498.0,684.8 517.6,686.4 547.0,688.9 576.5,689.7 600.0,691.5 626.8,694.9 686.5,694.9 707.8,693.0 717.6,690.8 737.2,690.8 756.8,693.0 800.0,693.0 826.5,693.0 836.6,694.9 856.9,694.9 887.3,692.9 927.8,692.9 948.1,687.8 968.4,683.4 988.7,681.5 1007.1,678.6 1027.0,678.6 1037.0,676.7 1046.9,678.6 1056.4,678.6 1066.8,680.4 1126.6,680.4 1137.0,678.6 1147.4,676.7 1177.8,676.1 1187.3,674.8 1207.2,674.8 1216.7,672.9 1227.1,670.6" fill="none" stroke="#addf88" stroke-width="1.9" stroke-linejoin="round"/><polyline points="0.0,637.8 17.4,648.8 36.6,660.7 46.7,662.5 66.8,668.9 87.0,676.8 97.1,678.6 117.2,679.0 137.4,682.7 157.5,690.9 175.8,698.2 186.8,704.6 196.8,708.8 215.5,713.0 235.9,722.4 256.3,730.6 276.7,730.6 297.1,735.1 317.5,738.9 336.2,737.2 349.8,738.9 358.3,737.2 368.5,739.4 380.4,743.6 390.0,745.3 406.4,746.9 417.0,749.4 435.8,752.7 455.4,760.8 476.7,769.0 498.0,769.0 517.6,764.9 527.4,760.8 556.8,755.1 566.6,751.0 586.3,746.9 600.0,745.5 617.0,738.0 647.2,726.5 657.1,724.9 676.7,716.7 696.3,708.5 707.8,706.1 725.8,702.8 737.2,698.7 747.0,696.2 766.6,689.7 786.3,681.5 800.0,679.0 816.4,671.6 836.6,664.5 856.9,658.5 877.2,652.4 897.4,650.3 917.7,649.3 938.0,644.3 958.3,631.1 978.5,623.0 990.0,618.5 1007.1,612.2 1027.0,604.6 1046.9,600.2 1066.8,596.0 1077.3,595.1 1097.2,595.1 1106.7,597.0 1117.1,598.9 1137.0,598.9 1147.4,600.8 1167.4,602.7 1187.3,604.6 1207.2,605.5 1227.1,606.9" fill="none" stroke="#22aeea" stroke-width="1.9" stroke-linejoin="round"/><polyline points="0.0,635.0 17.4,644.2 27.5,650.6 36.6,654.3 56.8,667.1 76.9,687.3 97.1,704.6 108.0,708.5 127.6,719.6 147.2,739.3 166.8,766.7 186.5,780.5 195.5,790.0 207.0,796.4 217.5,803.0 227.1,810.6 236.7,814.7 256.6,826.8 266.9,827.1 286.1,834.0 297.1,836.7 306.7,836.7 317.7,832.6 337.0,820.9 346.6,816.8 356.9,808.5 366.5,803.0 376.8,798.9 390.0,791.1 406.4,787.0 417.0,784.6 427.6,778.8 437.4,776.4 455.4,769.0 468.5,764.1 486.5,756.8 496.3,749.4 507.8,734.7 527.4,711.8 547.0,692.2 560.1,680.7 576.5,667.6 586.3,661.9 596.5,657.8 617.0,644.7 647.2,639.0 657.1,640.6 676.7,636.5 688.1,633.0 707.8,626.5 727.4,624.9 747.0,622.4 766.6,614.3 778.1,606.9 786.3,605.3 800.0,608.5 816.4,619.9 826.5,624.0 838.7,629.1 856.9,633.1 877.2,640.2 887.3,642.2 897.4,643.3 907.6,647.3 917.7,650.3 927.8,649.3 938.0,645.3 948.1,637.2 958.3,622.0 968.4,612.8 978.5,607.8 988.7,603.7 1000.0,600.0 1007.1,598.9 1016.6,594.1 1027.0,587.5 1037.0,581.8 1046.9,579.0 1066.8,579.0 1077.3,582.8 1086.7,582.8 1097.2,580.9 1117.1,577.1 1126.6,575.2 1137.0,571.4 1147.4,569.5 1167.4,568.5 1187.3,565.7 1207.2,563.8 1216.7,561.0 1227.1,564.7" fill="none" stroke="#e24bc0" stroke-width="1.9" stroke-linejoin="round"/><polyline points="0.0,628.6 18.3,645.1 36.6,669.0 46.7,681.8 56.5,700.0 64.8,717.7 76.5,735.3 86.4,751.0 96.2,766.7 107.0,776.5 117.8,782.4 127.6,790.3 137.4,798.1 147.2,806.0 157.0,817.8 166.8,825.6 176.6,831.5 186.5,839.4 196.6,847.0 206.5,851.1 216.8,849.1 227.1,851.8 236.7,854.6 247.0,854.6 257.3,852.5 266.9,843.6 286.1,831.2 297.1,826.4 317.0,823.0 327.3,813.3 337.0,804.0 349.8,794.7 360.0,782.8 366.8,777.6 377.0,775.1 387.2,769.2 400.0,761.5 406.4,759.2 417.0,752.7 427.6,744.5 437.4,737.1 457.1,731.4 466.9,730.6 476.7,729.0 488.1,724.0 498.0,711.8 507.8,698.7 517.6,688.1 537.2,675.8 556.8,662.7 576.5,643.1 586.3,633.6 600.0,629.5 606.4,624.1 617.0,617.5 627.6,609.4 637.4,602.8 647.2,594.6 666.9,590.5 676.7,587.3 688.1,584.5 697.1,584.8 707.8,596.3 727.4,611.0 747.0,629.5 766.6,640.5 776.5,639.0 786.3,638.5 800.0,643.5 806.2,647.3 816.4,651.4 826.5,655.4 836.6,656.4 846.8,656.4 856.9,649.3 867.0,646.9 887.3,647.3 897.4,649.3 907.6,652.4 917.7,655.4 927.8,645.3 938.0,637.2 948.1,627.0 958.3,599.7 968.4,586.9 978.5,586.5 988.7,582.4 1000.0,573.3 1007.4,567.5 1017.5,561.9 1027.5,555.5 1037.6,549.1 1047.7,550.9 1057.8,552.7 1066.9,554.6 1077.0,554.6 1087.1,550.9 1097.1,548.2 1107.2,543.6 1117.3,538.6 1127.4,540.8 1137.4,542.7 1147.5,550.0 1156.8,570.0 1167.4,579.9 1177.8,584.7 1187.3,589.4 1196.8,592.2 1207.2,597.9 1216.7,603.6 1227.1,608.4" fill="none" stroke="#cfd1ea" stroke-width="1.9" stroke-linejoin="round"/><polyline points="0.0,750.0 7.9,768.7 17.7,809.9 27.5,845.2 39.3,866.8 47.1,888.4 56.9,919.8 68.7,935.5 82.4,955.2 96.2,966.9 109.9,963.0 127.6,968.9 145.2,978.7 157.0,980.7 166.8,978.7 180.6,959.1 190.0,945.9 196.9,934.9 216.8,926.7 227.1,930.8 236.7,932.8 247.0,932.8 256.6,920.7 277.2,925.3 286.8,915.0 297.1,912.6 317.0,916.4 326.7,939.0 337.0,945.2 346.6,937.6 356.9,925.3 366.5,917.0 376.8,914.7 400.0,895.8 417.8,880.0 427.6,855.7 437.4,834.4 457.1,806.6 476.7,802.6 486.5,796.8 497.1,805.0 506.1,841.0 527.4,860.6 537.2,864.7 556.8,864.7 566.6,869.6 576.5,858.2 590.0,845.1 596.5,839.4 606.4,826.3 626.8,801.7 637.4,787.0 647.2,760.8 657.1,752.7 666.9,741.2 676.7,724.9 687.3,716.7 697.1,718.3 707.8,720.8 717.6,724.9 727.4,733.0 737.2,742.9 747.0,760.8 756.8,760.8 766.6,740.9 776.5,745.3 786.3,745.3 800.0,749.4 806.2,750.7 816.4,750.7 826.5,746.6 846.8,746.6 856.9,740.6 867.0,738.5 877.2,738.9 887.3,740.6 897.4,740.6 907.6,744.6 917.7,756.8 927.8,760.8 938.0,762.8 948.1,766.5 956.2,831.8 966.4,840.9 976.5,840.9 986.6,836.8 997.0,828.0 1007.1,814.2 1016.6,804.7 1027.0,797.1 1037.0,784.8 1046.9,788.6 1056.4,795.2 1066.8,797.1 1077.3,796.7 1086.7,791.0 1097.2,782.9 1106.7,773.4 1117.1,746.8 1126.6,749.7 1137.0,752.5 1147.4,754.4 1156.9,694.7 1167.4,677.6 1177.8,679.5 1187.3,683.3 1196.8,685.2 1207.2,682.9 1216.7,682.9 1227.1,678.6" fill="none" stroke="#e24bc0" stroke-width="1.9" stroke-linejoin="round"/><polyline points="0.0,508.7 7.0,503.2 16.8,483.0 27.1,477.0 36.6,477.0 47.3,481.2 57.3,490.9 65.9,516.0 75.1,533.4 86.1,550.8 96.2,575.5 106.2,592.9 117.2,607.0 128.2,619.5 146.5,636.9 156.6,656.1 166.7,676.3 174.0,696.4 180.4,720.0 190.0,741.9 196.8,760.6 207.0,775.1 217.2,772.6 227.4,775.1 236.8,781.1 246.1,778.5 257.2,781.1 266.5,763.2 278.4,749.6 292.0,742.8 305.6,736.8 316.7,730.9 322.6,707.9 329.4,685.8 337.9,663.7 348.1,655.2 358.3,645.9 366.8,639.1 377.0,636.5 387.2,633.1 397.4,628.9 406.4,629.0 417.0,624.9 427.6,630.6 437.4,642.1 447.2,649.5 457.1,657.0 476.7,657.0 487.3,652.9 496.3,627.0 502.9,596.3 507.8,561.9 517.6,527.6 529.0,508.0 547.0,480.1 556.8,467.1 566.6,437.6 576.5,429.4 586.3,427.0 600.0,424.5 606.4,424.5 617.0,422.9 626.8,418.8 637.4,422.9 647.2,432.7 657.1,436.8 666.9,442.5 676.7,450.7 686.5,452.3 697.1,454.8 706.1,468.7 717.6,483.4 727.4,490.8 737.2,496.5 747.0,499.0 756.8,507.1 766.6,540.7 776.5,536.6 786.3,539.0 800.0,541.5 807.0,542.3 817.2,550.0 826.5,564.2 836.6,568.6 846.8,568.6 856.9,559.1 867.0,555.1 887.3,555.1 897.4,559.1 907.6,558.5 917.2,552.2 926.0,538.0 936.2,519.3 946.4,481.9 951.5,453.0 955.8,388.4 957.5,371.4 966.8,343.4 977.0,343.4 987.2,337.1 997.4,334.0 1007.4,327.1 1017.5,324.7 1027.5,321.1 1037.6,321.1 1047.7,318.7 1077.0,318.7 1087.1,321.1 1097.1,322.9 1107.2,325.3 1117.3,334.8 1127.4,334.8 1137.4,338.8 1147.5,353.1 1153.0,402.6 1156.7,444.7 1166.7,485.0 1176.8,490.5 1186.9,498.7 1197.0,502.9 1206.1,520.7 1217.1,528.9 1227.2,547.3" fill="none" stroke="#f6e82c" stroke-width="1.9" stroke-linejoin="round"/><polyline points="0.0,678.1 7.3,694.6 16.5,712.0 29.4,733.4 47.1,751.0 56.9,776.5 66.7,796.2 76.5,815.8 86.4,837.4 96.2,858.0 107.0,861.0 117.8,853.1 127.6,854.1 137.4,859.0 147.2,861.0 157.0,859.0 166.8,855.1 176.6,848.2 186.5,841.3 196.9,836.7 206.5,842.9 217.5,847.7 227.1,851.1 236.7,853.2 246.3,849.1 256.6,842.2 266.9,829.8 277.2,825.7 288.6,818.0 306.7,809.2 316.4,801.0 326.0,772.6 337.9,750.4 346.4,740.2 356.6,724.9 366.8,723.2 377.0,720.7 387.2,715.6 396.5,711.0 406.4,708.5 417.0,705.2 427.6,715.0 437.4,723.2 447.2,730.6 457.1,736.3 466.9,738.8 476.7,737.1 488.1,732.2 498.0,719.1 506.1,698.7 515.9,672.5 527.4,649.6 538.0,630.0 547.0,609.4 556.8,588.1 566.6,563.6 576.5,545.6 586.3,534.9 596.5,539.0 606.4,552.1 617.0,561.1 627.6,565.2 637.4,570.9 647.2,580.7 657.1,596.3 666.9,619.2 676.7,629.0 686.5,633.9 696.3,633.3 707.8,638.5 717.6,645.5 727.4,657.0 737.2,667.6 747.0,679.1 756.8,669.3 766.6,662.7 776.5,651.3 786.3,647.2 798.1,654.4 806.2,656.4 816.4,656.4 826.5,651.4 836.6,647.3 846.8,637.2 856.9,631.1 867.0,629.1 877.2,640.2 887.3,646.3 897.4,642.8 907.6,645.3 917.7,653.4 927.8,643.3 938.0,631.1 948.1,606.8 956.2,568.2 966.8,544.9 977.0,535.5 987.2,519.3 996.6,510.8 1007.4,492.3 1017.5,471.2 1027.5,468.5 1037.6,472.5 1047.7,496.9 1056.8,538.1 1066.9,562.8 1077.0,575.0 1086.7,581.8 1097.2,587.5 1106.7,599.8 1117.1,606.5 1126.6,612.2 1137.0,613.1 1147.4,605.5 1156.9,598.9 1167.4,598.9 1177.8,595.1 1187.3,596.0 1196.8,597.9 1207.2,601.7 1216.7,606.5 1227.1,613.1" fill="none" stroke="#f6e82c" stroke-width="1.9" stroke-linejoin="round"/><polyline points="0.0,683.6 7.3,696.4 11.8,727.5 19.6,758.9 29.4,790.3 39.3,815.8 49.1,837.4 56.9,857.0 66.7,861.0 76.5,874.7 86.4,890.4 96.2,893.3 107.0,864.9 117.8,843.3 127.6,835.4 137.4,827.6 147.2,830.5 157.0,849.2 166.8,866.8 176.6,857.0 186.5,855.1 196.9,846.3 206.5,831.2 216.8,826.4 227.1,838.1 236.7,852.5 247.0,854.6 257.3,852.5 268.3,829.8 277.9,809.2 285.2,793.0 297.1,777.6 307.3,763.2 317.5,764.9 326.0,738.5 336.2,714.7 346.4,704.5 356.6,686.7 366.8,681.1 377.0,702.8 387.2,719.0 396.6,719.0 406.4,731.4 417.0,731.4 427.6,724.9 437.4,726.5 447.2,738.0 457.1,741.2 466.9,744.5 476.7,751.0 488.1,738.0 498.0,700.3 504.5,654.5 514.3,607.7 525.8,555.4 537.2,529.2 547.0,516.1 556.8,537.4 566.6,526.8 579.7,535.8 586.3,539.0 596.5,557.0 606.4,570.1 617.0,594.6 627.6,593.0 637.4,600.4 647.2,602.8 657.1,619.2 668.5,650.0 676.7,662.7 688.1,666.8 696.3,663.5 707.8,648.8 717.6,648.8 727.4,656.2 737.2,667.6 747.0,693.8 756.8,688.9 766.6,678.3 776.5,651.3 786.3,629.0 797.7,615.9 816.4,631.1 826.5,651.4 836.6,667.2 846.8,657.4 856.9,635.1 867.0,625.0 877.2,627.0 887.3,627.0 897.4,631.1 907.6,649.3 917.7,682.8 927.8,657.4 938.0,629.1 948.1,570.3 960.0,459.8 966.8,413.1 977.0,413.1 987.2,417.3 996.6,442.8 1007.4,497.8 1017.5,528.9 1027.5,522.5 1037.6,529.9 1047.7,550.9 1056.4,579.0 1066.8,597.0 1077.3,624.5 1086.7,636.8 1097.2,620.7 1106.7,621.1 1117.1,615.0 1126.6,604.6 1137.0,591.3 1147.4,588.5 1156.9,577.1 1167.4,579.9 1177.8,583.7 1187.3,590.3 1196.8,608.4 1207.2,629.2 1216.7,629.2 1227.1,635.9" fill="none" stroke="#cfd1ea" stroke-width="1.9" stroke-linejoin="round"/><rect x="4" y="1140.5" width="6" height="23.1" fill="#ec625f"/><rect x="14" y="1140.5" width="6" height="39.0" fill="#ec625f"/><rect x="24" y="1140.5" width="6" height="41.2" fill="#ec625f"/><rect x="35" y="1141.5" width="4" height="34.8" fill="none" stroke="#ec625f" stroke-width="2"/><rect x="44" y="1140.5" width="6" height="37.1" fill="#ec625f"/><rect x="54" y="1140.5" width="6" height="43.3" fill="#ec625f"/><rect x="65" y="1141.5" width="4" height="39.2" fill="none" stroke="#ec625f" stroke-width="2"/><rect x="75" y="1141.5" width="4" height="33.1" fill="none" stroke="#ec625f" stroke-width="2"/><rect x="85" y="1141.5" width="4" height="29.0" fill="none" stroke="#ec625f" stroke-width="2"/><rect x="95" y="1141.5" width="4" height="21.1" fill="none" stroke="#ec625f" stroke-width="2"/><rect x="105" y="1141.5" width="4" height="3.0" fill="none" stroke="#ec625f" stroke-width="2"/><rect x="115" y="1135.2" width="4" height="4.3" fill="none" stroke="#0fcb8c" stroke-width="2"/><rect x="125" y="1133.0" width="4" height="6.5" fill="none" stroke="#0fcb8c" stroke-width="2"/><rect x="135" y="1133.0" width="4" height="6.5" fill="none" stroke="#0fcb8c" stroke-width="2"/><rect x="144" y="1134.2" width="6" height="6.3" fill="#0fcb8c"/><rect x="154" y="1136.0" width="6" height="4.5" fill="#0fcb8c"/><rect x="165" y="1135.2" width="4" height="4.3" fill="none" stroke="#0fcb8c" stroke-width="2"/><rect x="175" y="1125.2" width="4" height="14.3" fill="none" stroke="#0fcb8c" stroke-width="2"/><rect x="185" y="1123.3" width="4" height="16.2" fill="none" stroke="#0fcb8c" stroke-width="2"/><rect x="195" y="1123.3" width="4" height="16.2" fill="none" stroke="#0fcb8c" stroke-width="2"/><rect x="205" y="1121.1" width="4" height="18.4" fill="none" stroke="#0fcb8c" stroke-width="2"/><rect x="215" y="1121.1" width="4" height="18.4" fill="none" stroke="#0fcb8c" stroke-width="2"/><rect x="224" y="1125.9" width="6" height="14.6" fill="#0fcb8c"/><rect x="234" y="1130.0" width="6" height="10.5" fill="#0fcb8c"/><rect x="245" y="1129.1" width="4" height="10.4" fill="none" stroke="#0fcb8c" stroke-width="2"/><rect x="255" y="1127.3" width="4" height="12.2" fill="none" stroke="#0fcb8c" stroke-width="2"/><rect x="265" y="1115.3" width="4" height="24.2" fill="none" stroke="#0fcb8c" stroke-width="2"/><rect x="275" y="1111.4" width="4" height="28.1" fill="none" stroke="#0fcb8c" stroke-width="2"/><rect x="285" y="1111.0" width="4" height="28.5" fill="none" stroke="#0fcb8c" stroke-width="2"/><rect x="294" y="1111.9" width="6" height="28.6" fill="#0fcb8c"/><rect x="304" y="1112.1" width="6" height="28.4" fill="#0fcb8c"/><rect x="314" y="1112.1" width="6" height="28.4" fill="#0fcb8c"/><rect x="325" y="1101.3" width="4" height="38.2" fill="none" stroke="#0fcb8c" stroke-width="2"/><rect x="335" y="1099.4" width="4" height="40.1" fill="none" stroke="#0fcb8c" stroke-width="2"/><rect x="344" y="1104.2" width="6" height="36.3" fill="#0fcb8c"/><rect x="354" y="1106.1" width="6" height="34.4" fill="#0fcb8c"/><rect x="364" y="1114.3" width="6" height="26.2" fill="#0fcb8c"/><rect x="374" y="1124.5" width="6" height="16.0" fill="#0fcb8c"/><rect x="384" y="1130.2" width="6" height="10.3" fill="#0fcb8c"/><rect x="394" y="1134.2" width="6" height="6.3" fill="#0fcb8c"/><rect x="404" y="1136.0" width="6" height="4.5" fill="#0fcb8c"/><rect x="414" y="1136.0" width="6" height="4.5" fill="#0fcb8c"/><rect x="424" y="1138.2" width="6" height="2.3" fill="#0fcb8c"/><rect x="434" y="1140.5" width="6" height="5.0" fill="#ec625f"/><rect x="444" y="1140.5" width="6" height="11.0" fill="#ec625f"/><rect x="454" y="1140.5" width="6" height="13.4" fill="#ec625f"/><rect x="465" y="1141.5" width="4" height="9.0" fill="none" stroke="#ec625f" stroke-width="2"/><rect x="475" y="1141.5" width="4" height="7.3" fill="none" stroke="#ec625f" stroke-width="2"/><rect x="484" y="1140.5" width="6" height="3.0" fill="#ec625f"/><rect x="495" y="1129.1" width="4" height="10.4" fill="none" stroke="#0fcb8c" stroke-width="2"/><rect x="505" y="1105.6" width="4" height="33.9" fill="none" stroke="#0fcb8c" stroke-width="2"/><rect x="515" y="1097.2" width="4" height="42.3" fill="none" stroke="#0fcb8c" stroke-width="2"/><rect x="525" y="1097.2" width="4" height="42.3" fill="none" stroke="#0fcb8c" stroke-width="2"/><rect x="534" y="1102.3" width="6" height="38.2" fill="#0fcb8c"/><rect x="544" y="1106.1" width="6" height="34.4" fill="#0fcb8c"/><rect x="554" y="1116.2" width="6" height="24.3" fill="#0fcb8c"/><rect x="565" y="1111.4" width="4" height="28.1" fill="none" stroke="#0fcb8c" stroke-width="2"/><rect x="574" y="1122.3" width="6" height="18.2" fill="#0fcb8c"/><rect x="584" y="1134.2" width="6" height="6.3" fill="#0fcb8c"/><rect x="594" y="1140.5" width="6" height="7.1" fill="#ec625f"/><rect x="604" y="1140.5" width="6" height="15.1" fill="#ec625f"/><rect x="614" y="1140.5" width="6" height="17.3" fill="#ec625f"/><rect x="625" y="1141.5" width="4" height="13.1" fill="none" stroke="#ec625f" stroke-width="2"/><rect x="634" y="1140.5" width="6" height="21.2" fill="#ec625f"/><rect x="644" y="1140.5" width="6" height="27.0" fill="#ec625f"/><rect x="654" y="1140.5" width="6" height="39.4" fill="#ec625f"/><rect x="664" y="1140.5" width="6" height="39.4" fill="#ec625f"/><rect x="675" y="1141.5" width="4" height="35.1" fill="none" stroke="#ec625f" stroke-width="2"/><rect x="685" y="1141.5" width="4" height="31.2" fill="none" stroke="#ec625f" stroke-width="2"/><rect x="695" y="1141.5" width="4" height="23.2" fill="none" stroke="#ec625f" stroke-width="2"/><rect x="705" y="1141.5" width="4" height="21.1" fill="none" stroke="#ec625f" stroke-width="2"/><rect x="715" y="1141.5" width="4" height="21.1" fill="none" stroke="#ec625f" stroke-width="2"/><rect x="724" y="1140.5" width="6" height="25.2" fill="#ec625f"/><rect x="734" y="1140.5" width="6" height="25.2" fill="#ec625f"/><rect x="744" y="1140.5" width="6" height="31.3" fill="#ec625f"/><rect x="755" y="1141.5" width="4" height="17.2" fill="none" stroke="#ec625f" stroke-width="2"/><rect x="765" y="1141.5" width="4" height="7.0" fill="none" stroke="#ec625f" stroke-width="2"/><rect x="775" y="1133.1" width="4" height="6.4" fill="none" stroke="#0fcb8c" stroke-width="2"/><rect x="785" y="1131.5" width="4" height="8.0" fill="none" stroke="#0fcb8c" stroke-width="2"/><rect x="794" y="1138.2" width="6" height="2.3" fill="#0fcb8c"/><rect x="804" y="1139.3" width="6" height="1.5" fill="#0fcb8c"/><rect x="814" y="1140.5" width="6" height="5.0" fill="#ec625f"/><rect x="824" y="1140.5" width="6" height="1.5" fill="#ec625f"/><rect x="834" y="1140.5" width="6" height="2.1" fill="#ec625f"/><rect x="844" y="1140.5" width="6" height="2.8" fill="#ec625f"/><rect x="855" y="1133.1" width="4" height="6.4" fill="none" stroke="#0fcb8c" stroke-width="2"/><rect x="865" y="1131.5" width="4" height="8.0" fill="none" stroke="#0fcb8c" stroke-width="2"/><rect x="874" y="1134.6" width="6" height="5.9" fill="#0fcb8c"/><rect x="884" y="1139.0" width="6" height="1.5" fill="#0fcb8c"/><rect x="894" y="1140.5" width="6" height="2.8" fill="#ec625f"/><rect x="904" y="1140.5" width="6" height="7.1" fill="#ec625f"/><rect x="914" y="1140.5" width="6" height="17.3" fill="#ec625f"/><rect x="924" y="1136.0" width="6" height="4.5" fill="#0fcb8c"/><rect x="935" y="1121.5" width="4" height="18.0" fill="none" stroke="#0fcb8c" stroke-width="2"/><rect x="945" y="1105.6" width="4" height="33.9" fill="none" stroke="#0fcb8c" stroke-width="2"/><rect x="955" y="1069.4" width="4" height="70.1" fill="none" stroke="#0fcb8c" stroke-width="2"/><rect x="964" y="1072.2" width="6" height="68.3" fill="#0fcb8c"/><rect x="974" y="1094.1" width="6" height="46.4" fill="#0fcb8c"/><rect x="984" y="1109.5" width="6" height="31.0" fill="#0fcb8c"/><rect x="994" y="1128.1" width="6" height="12.4" fill="#0fcb8c"/><rect x="1004" y="1130.1" width="6" height="10.4" fill="#0fcb8c"/><rect x="1014" y="1138.2" width="6" height="2.3" fill="#0fcb8c"/><rect x="1024" y="1140.5" width="6" height="5.2" fill="#ec625f"/><rect x="1034" y="1140.5" width="6" height="11.2" fill="#ec625f"/><rect x="1044" y="1140.5" width="6" height="31.1" fill="#ec625f"/><rect x="1054" y="1140.5" width="6" height="37.1" fill="#ec625f"/><rect x="1064" y="1140.5" width="6" height="37.1" fill="#ec625f"/><rect x="1074" y="1140.5" width="6" height="39.2" fill="#ec625f"/><rect x="1085" y="1141.5" width="4" height="33.0" fill="none" stroke="#ec625f" stroke-width="2"/><rect x="1095" y="1141.5" width="4" height="27.0" fill="none" stroke="#ec625f" stroke-width="2"/><rect x="1105" y="1141.5" width="4" height="24.9" fill="none" stroke="#ec625f" stroke-width="2"/><rect x="1115" y="1141.5" width="4" height="18.9" fill="none" stroke="#ec625f" stroke-width="2"/><rect x="1125" y="1141.5" width="4" height="12.9" fill="none" stroke="#ec625f" stroke-width="2"/><rect x="1135" y="1141.5" width="4" height="5.1" fill="none" stroke="#ec625f" stroke-width="2"/><rect x="1145" y="1141.5" width="4" height="2.7" fill="none" stroke="#ec625f" stroke-width="2"/><rect x="1154" y="1140.5" width="6" height="3.0" fill="#ec625f"/><rect x="1164" y="1140.5" width="6" height="7.1" fill="#ec625f"/><rect x="1174" y="1140.5" width="6" height="7.1" fill="#ec625f"/><rect x="1184" y="1140.5" width="6" height="11.2" fill="#ec625f"/><rect x="1195" y="1141.5" width="4" height="5.1" fill="none" stroke="#ec625f" stroke-width="2"/><rect x="1204" y="1140.5" width="6" height="11.2" fill="#ec625f"/><rect x="1214" y="1140.5" width="6" height="11.2" fill="#ec625f"/><rect x="1224" y="1140.5" width="6" height="13.3" fill="#ec625f"/><polyline points="0.0,1159.2 5.8,1163.6 17.4,1177.3 27.5,1183.1 36.2,1185.3 46.3,1188.9 56.5,1198.3 66.6,1202.7 76.8,1203.1 86.9,1204.8 97.0,1203.1 107.2,1194.7 117.3,1188.2 127.5,1186.0 136.9,1184.6 146.3,1186.7 156.4,1186.7 166.6,1184.6 176.7,1178.0 186.8,1174.4 197.0,1173.0 207.1,1168.6 217.3,1166.9 227.4,1168.6 237.5,1168.3 247.2,1166.9 257.4,1162.8 267.5,1154.9 276.2,1149.1 287.8,1144.7 297.9,1142.6 306.6,1138.9 316.8,1134.6 326.9,1126.6 337.0,1117.2 347.2,1117.2 357.3,1112.9 367.5,1115.0 376.9,1117.2 387.0,1119.1 397.2,1119.1 407.3,1120.8 416.7,1122.6 426.9,1123.7 437.0,1125.9 447.1,1129.5 457.3,1133.1 467.4,1133.1 477.5,1133.1 488.7,1127.4 497.4,1120.1 506.1,1104.9 516.2,1094.8 527.8,1088.2 537.9,1086.4 546.6,1084.6 556.8,1086.8 566.9,1080.6 577.0,1082.5 587.2,1089.0 597.3,1096.2 607.5,1103.2 617.6,1105.2 627.0,1105.2 637.2,1111.4 646.6,1117.2 656.7,1125.9 666.8,1133.1 677.0,1134.6 687.1,1136.8 697.3,1136.8 707.4,1138.9 717.5,1141.8 728.7,1145.5 737.4,1149.1 746.8,1154.9 756.2,1151.3 766.3,1146.6 776.5,1136.8 786.6,1135.0 796.8,1139.4 806.9,1142.8 817.0,1143.3 827.2,1143.7 837.3,1145.2 847.5,1142.6 856.9,1136.8 867.0,1135.0 877.2,1136.8 886.6,1139.0 896.7,1141.1 906.8,1145.5 917.0,1151.0 927.1,1141.8 937.3,1131.0 946.7,1117.6 956.8,1091.1 967.0,1082.7 977.0,1088.9 986.9,1092.4 997.0,1100.6 1007.0,1100.6 1016.9,1103.8 1027.0,1107.9 1037.1,1112.7 1047.0,1124.9 1057.0,1132.7 1067.1,1136.2 1077.0,1144.4 1087.0,1146.8 1096.9,1146.8 1107.0,1148.9 1117.0,1148.9 1126.9,1146.8 1137.0,1144.4 1147.1,1143.1 1157.0,1141.9 1167.0,1144.7 1177.1,1144.4 1187.0,1148.4 1197.0,1148.4 1206.9,1152.5 1217.0,1153.3 1227.0,1154.9" fill="none" stroke="#cfd1ea" stroke-width="1.9" stroke-linejoin="round"/><polyline points="0.0,1150.5 5.8,1152.0 17.4,1156.3 27.5,1162.8 46.3,1171.5 66.6,1182.4 76.8,1186.0 86.9,1188.9 97.0,1192.5 117.3,1193.0 127.5,1191.1 136.9,1190.8 146.3,1189.6 166.6,1188.9 176.7,1187.5 186.8,1182.8 197.0,1181.0 207.1,1178.8 217.3,1176.6 227.4,1174.4 237.5,1172.8 247.2,1173.3 257.4,1171.2 267.5,1167.2 287.8,1158.5 297.9,1156.3 316.8,1148.4 326.9,1144.7 337.0,1138.9 357.3,1131.0 367.5,1126.6 376.9,1124.9 387.0,1124.5 397.2,1122.6 416.7,1122.6 437.0,1122.6 447.1,1124.5 457.3,1126.6 467.4,1126.9 477.5,1128.8 497.4,1126.6 507.5,1122.3 517.7,1117.2 527.8,1111.4 546.6,1103.5 566.9,1094.8 577.0,1093.0 595.9,1093.0 607.5,1094.8 627.0,1098.4 637.2,1100.8 646.6,1104.9 666.8,1112.4 677.0,1118.7 687.1,1120.8 697.3,1124.5 707.4,1126.9 717.5,1131.0 728.7,1133.1 737.4,1136.8 746.8,1141.1 756.2,1142.8 776.5,1142.6 786.6,1140.8 806.9,1140.8 837.3,1142.8 856.9,1141.1 867.0,1141.1 877.2,1139.0 896.7,1139.0 906.8,1140.8 917.0,1143.3 927.1,1142.8 937.3,1139.0 946.7,1134.6 956.8,1125.9 967.0,1116.8 977.0,1112.7 986.9,1109.5 997.0,1107.0 1007.0,1104.6 1016.9,1105.1 1027.0,1107.0 1037.1,1107.0 1047.0,1111.6 1057.0,1116.0 1067.1,1119.7 1077.0,1124.9 1087.0,1128.9 1096.9,1132.7 1107.0,1134.6 1117.0,1138.7 1126.9,1140.8 1157.0,1140.8 1167.0,1142.4 1177.1,1142.7 1187.0,1144.7 1197.0,1144.7 1206.9,1147.3 1217.0,1148.9 1227.0,1148.9" fill="none" stroke="#f6e82c" stroke-width="1.9" stroke-linejoin="round"/><rect x="4" y="1400.2" width="6" height="35.8" fill="#ec625f"/><rect x="14" y="1404.2" width="6" height="31.8" fill="#ec625f"/><rect x="25" y="1391.5" width="4" height="43.5" fill="none" stroke="#0fcb8c" stroke-width="2"/><rect x="35" y="1385.6" width="4" height="49.4" fill="none" stroke="#0fcb8c" stroke-width="2"/><rect x="44" y="1354.3" width="6" height="81.7" fill="#ec625f"/><rect x="54" y="1374.2" width="6" height="61.8" fill="#ec625f"/><rect x="65" y="1351.6" width="4" height="83.4" fill="none" stroke="#0fcb8c" stroke-width="2"/><rect x="75" y="1383.4" width="4" height="51.6" fill="none" stroke="#0fcb8c" stroke-width="2"/><rect x="84" y="1386.2" width="6" height="49.8" fill="#ec625f"/><rect x="95" y="1371.3" width="4" height="63.7" fill="none" stroke="#0fcb8c" stroke-width="2"/><rect x="105" y="1369.4" width="4" height="65.6" fill="none" stroke="#0fcb8c" stroke-width="2"/><rect x="114" y="1380.4" width="6" height="55.6" fill="#ec625f"/><rect x="124" y="1396.3" width="6" height="39.7" fill="#ec625f"/><rect x="134" y="1380.4" width="6" height="55.6" fill="#ec625f"/><rect x="144" y="1386.2" width="6" height="49.8" fill="#ec625f"/><rect x="154" y="1390.1" width="6" height="45.9" fill="#ec625f"/><rect x="165" y="1393.3" width="4" height="41.7" fill="none" stroke="#0fcb8c" stroke-width="2"/><rect x="175" y="1399.4" width="4" height="35.6" fill="none" stroke="#0fcb8c" stroke-width="2"/><rect x="184" y="1400.2" width="6" height="35.8" fill="#ec625f"/><rect x="194" y="1406.0" width="6" height="30.0" fill="#ec625f"/><rect x="205" y="1403.4" width="4" height="31.6" fill="none" stroke="#0fcb8c" stroke-width="2"/><rect x="215" y="1397.6" width="4" height="37.4" fill="none" stroke="#0fcb8c" stroke-width="2"/><rect x="224" y="1390.1" width="6" height="45.9" fill="#ec625f"/><rect x="235" y="1403.4" width="4" height="31.6" fill="none" stroke="#0fcb8c" stroke-width="2"/><rect x="245" y="1401.2" width="4" height="33.8" fill="none" stroke="#0fcb8c" stroke-width="2"/><rect x="255" y="1411.4" width="4" height="23.6" fill="none" stroke="#0fcb8c" stroke-width="2"/><rect x="265" y="1393.3" width="4" height="41.7" fill="none" stroke="#0fcb8c" stroke-width="2"/><rect x="274" y="1392.3" width="6" height="43.7" fill="#ec625f"/><rect x="284" y="1408.2" width="6" height="27.8" fill="#ec625f"/><rect x="295" y="1415.3" width="4" height="19.7" fill="none" stroke="#0fcb8c" stroke-width="2"/><rect x="305" y="1415.3" width="4" height="19.7" fill="none" stroke="#0fcb8c" stroke-width="2"/><rect x="315" y="1411.4" width="4" height="23.6" fill="none" stroke="#0fcb8c" stroke-width="2"/><rect x="325" y="1395.5" width="4" height="39.5" fill="none" stroke="#0fcb8c" stroke-width="2"/><rect x="334" y="1409.7" width="6" height="26.3" fill="#ec625f"/><rect x="344" y="1412.3" width="6" height="23.7" fill="#ec625f"/><rect x="355" y="1417.6" width="4" height="17.4" fill="none" stroke="#0fcb8c" stroke-width="2"/><rect x="364" y="1402.1" width="6" height="33.9" fill="#ec625f"/><rect x="374" y="1404.2" width="6" height="31.8" fill="#ec625f"/><rect x="385" y="1410.4" width="4" height="24.6" fill="none" stroke="#0fcb8c" stroke-width="2"/><rect x="395" y="1405.6" width="4" height="29.4" fill="none" stroke="#0fcb8c" stroke-width="2"/><rect x="404" y="1410.0" width="6" height="26.0" fill="#ec625f"/><rect x="415" y="1410.4" width="4" height="24.6" fill="none" stroke="#0fcb8c" stroke-width="2"/><rect x="424" y="1410.0" width="6" height="26.0" fill="#ec625f"/><rect x="434" y="1411.8" width="6" height="24.2" fill="#ec625f"/><rect x="444" y="1416.2" width="6" height="19.8" fill="#ec625f"/><rect x="455" y="1414.7" width="4" height="20.3" fill="none" stroke="#0fcb8c" stroke-width="2"/><rect x="465" y="1417.6" width="4" height="17.4" fill="none" stroke="#0fcb8c" stroke-width="2"/><rect x="474" y="1418.1" width="6" height="17.9" fill="#ec625f"/><rect x="485" y="1415.0" width="4" height="20.0" fill="none" stroke="#0fcb8c" stroke-width="2"/><rect x="495" y="1347.2" width="4" height="87.8" fill="none" stroke="#0fcb8c" stroke-width="2"/><rect x="505" y="1353.5" width="4" height="81.5" fill="none" stroke="#0fcb8c" stroke-width="2"/><rect x="514" y="1385.8" width="6" height="50.2" fill="#ec625f"/><rect x="524" y="1402.1" width="6" height="33.9" fill="#ec625f"/><rect x="534" y="1400.2" width="6" height="35.8" fill="#ec625f"/><rect x="545" y="1417.6" width="4" height="17.4" fill="none" stroke="#0fcb8c" stroke-width="2"/><rect x="554" y="1414.0" width="6" height="22.0" fill="#ec625f"/><rect x="565" y="1405.6" width="4" height="29.4" fill="none" stroke="#0fcb8c" stroke-width="2"/><rect x="574" y="1348.1" width="6" height="87.9" fill="#ec625f"/><rect x="584" y="1372.3" width="6" height="63.7" fill="#ec625f"/><rect x="594" y="1410.0" width="6" height="26.0" fill="#ec625f"/><rect x="605" y="1413.6" width="4" height="21.4" fill="none" stroke="#0fcb8c" stroke-width="2"/><rect x="615" y="1419.4" width="4" height="15.6" fill="none" stroke="#0fcb8c" stroke-width="2"/><rect x="625" y="1419.4" width="4" height="15.6" fill="none" stroke="#0fcb8c" stroke-width="2"/><rect x="634" y="1416.6" width="6" height="19.4" fill="#ec625f"/><rect x="644" y="1420.1" width="6" height="15.9" fill="#ec625f"/><rect x="654" y="1378.1" width="6" height="57.9" fill="#ec625f"/><rect x="665" y="1413.3" width="4" height="21.7" fill="none" stroke="#0fcb8c" stroke-width="2"/><rect x="675" y="1413.3" width="4" height="21.7" fill="none" stroke="#0fcb8c" stroke-width="2"/><rect x="685" y="1417.2" width="4" height="17.8" fill="none" stroke="#0fcb8c" stroke-width="2"/><rect x="695" y="1417.2" width="4" height="17.8" fill="none" stroke="#0fcb8c" stroke-width="2"/><rect x="704" y="1424.1" width="6" height="11.9" fill="#ec625f"/><rect x="714" y="1420.1" width="6" height="15.9" fill="#ec625f"/><rect x="724" y="1420.1" width="6" height="15.9" fill="#ec625f"/><rect x="734" y="1421.0" width="6" height="15.0" fill="#ec625f"/><rect x="744" y="1408.2" width="6" height="27.8" fill="#ec625f"/><rect x="755" y="1411.4" width="4" height="23.6" fill="none" stroke="#0fcb8c" stroke-width="2"/><rect x="765" y="1411.4" width="4" height="23.6" fill="none" stroke="#0fcb8c" stroke-width="2"/><rect x="775" y="1411.4" width="4" height="23.6" fill="none" stroke="#0fcb8c" stroke-width="2"/><rect x="784" y="1422.0" width="6" height="14.0" fill="#ec625f"/><rect x="794" y="1420.1" width="6" height="15.9" fill="#ec625f"/><rect x="805" y="1417.6" width="4" height="17.4" fill="none" stroke="#0fcb8c" stroke-width="2"/><rect x="815" y="1425.4" width="4" height="9.6" fill="none" stroke="#0fcb8c" stroke-width="2"/><rect x="825" y="1424.4" width="4" height="10.6" fill="none" stroke="#0fcb8c" stroke-width="2"/><rect x="834" y="1428.2" width="6" height="7.8" fill="#ec625f"/><rect x="845" y="1429.2" width="4" height="5.8" fill="none" stroke="#0fcb8c" stroke-width="2"/><rect x="855" y="1423.4" width="4" height="11.6" fill="none" stroke="#0fcb8c" stroke-width="2"/><rect x="864" y="1428.2" width="6" height="7.8" fill="#ec625f"/><rect x="874" y="1427.3" width="6" height="8.7" fill="#ec625f"/><rect x="884" y="1414.0" width="6" height="22.0" fill="#ec625f"/><rect x="895" y="1427.3" width="4" height="7.7" fill="none" stroke="#0fcb8c" stroke-width="2"/><rect x="904" y="1428.2" width="6" height="7.8" fill="#ec625f"/><rect x="914" y="1414.0" width="6" height="22.0" fill="#ec625f"/><rect x="925" y="1405.6" width="4" height="29.4" fill="none" stroke="#0fcb8c" stroke-width="2"/><rect x="935" y="1401.7" width="4" height="33.3" fill="none" stroke="#0fcb8c" stroke-width="2"/><rect x="945" y="1393.6" width="4" height="41.4" fill="none" stroke="#0fcb8c" stroke-width="2"/><rect x="955" y="1309.7" width="4" height="125.3" fill="none" stroke="#0fcb8c" stroke-width="2"/><rect x="964" y="1346.1" width="6" height="89.9" fill="#ec625f"/><rect x="974" y="1294.3" width="6" height="141.7" fill="#ec625f"/><rect x="985" y="1373.5" width="4" height="61.5" fill="none" stroke="#0fcb8c" stroke-width="2"/><rect x="994" y="1400.3" width="6" height="35.7" fill="#ec625f"/><rect x="1005" y="1405.5" width="4" height="29.5" fill="none" stroke="#0fcb8c" stroke-width="2"/><rect x="1014" y="1408.3" width="6" height="27.7" fill="#ec625f"/><rect x="1025" y="1409.3" width="4" height="25.7" fill="none" stroke="#0fcb8c" stroke-width="2"/><rect x="1034" y="1416.4" width="6" height="19.6" fill="#ec625f"/><rect x="1044" y="1372.5" width="6" height="63.5" fill="#ec625f"/><rect x="1055" y="1407.5" width="4" height="27.5" fill="none" stroke="#0fcb8c" stroke-width="2"/><rect x="1065" y="1413.5" width="4" height="21.5" fill="none" stroke="#0fcb8c" stroke-width="2"/><rect x="1074" y="1410.0" width="6" height="26.0" fill="#ec625f"/><rect x="1085" y="1409.3" width="4" height="25.7" fill="none" stroke="#0fcb8c" stroke-width="2"/><rect x="1095" y="1415.2" width="4" height="19.8" fill="none" stroke="#0fcb8c" stroke-width="2"/><rect x="1104" y="1413.8" width="6" height="22.2" fill="#ec625f"/><rect x="1115" y="1417.4" width="4" height="17.6" fill="none" stroke="#0fcb8c" stroke-width="2"/><rect x="1125" y="1405.5" width="4" height="29.5" fill="none" stroke="#0fcb8c" stroke-width="2"/><rect x="1135" y="1409.6" width="4" height="25.4" fill="none" stroke="#0fcb8c" stroke-width="2"/><rect x="1144" y="1416.4" width="6" height="19.6" fill="#ec625f"/><rect x="1155" y="1427.4" width="4" height="7.6" fill="none" stroke="#0fcb8c" stroke-width="2"/><rect x="1164" y="1414.2" width="6" height="21.8" fill="#ec625f"/><rect x="1175" y="1415.2" width="4" height="19.8" fill="none" stroke="#0fcb8c" stroke-width="2"/><rect x="1184" y="1422.2" width="6" height="13.8" fill="#ec625f"/><rect x="1195" y="1407.5" width="4" height="27.5" fill="none" stroke="#0fcb8c" stroke-width="2"/><rect x="1204" y="1412.5" width="6" height="23.5" fill="#ec625f"/><rect x="1215" y="1415.2" width="4" height="19.8" fill="none" stroke="#0fcb8c" stroke-width="2"/><rect x="1224" y="1432.1" width="6" height="3.9" fill="#ec625f"/><polyline points="0.0,1414.7 8.7,1415.2 17.4,1412.9 26.1,1406.0 37.7,1396.6 47.8,1386.5 57.9,1380.7 66.6,1370.8 76.8,1368.8 86.9,1370.8 97.0,1373.2 107.2,1373.2 117.3,1379.2 127.5,1381.0 136.9,1379.0 147.0,1383.6 157.2,1387.6 166.6,1390.8 176.7,1390.8 186.8,1395.2 197.0,1399.5 207.1,1401.3 217.3,1401.0 227.4,1398.8 237.5,1401.0 248.7,1398.8 257.4,1399.5 267.5,1398.1 277.7,1398.8 287.8,1401.7 297.9,1405.0 306.6,1405.0 316.8,1408.9 326.9,1408.9 347.2,1408.9 357.3,1408.9 367.5,1406.8 376.9,1408.9 387.0,1408.9 397.2,1406.8 406.6,1408.2 416.7,1409.4 426.9,1410.4 437.0,1411.1 447.1,1412.9 457.3,1412.9 467.4,1414.7 477.5,1415.2 487.0,1416.9 497.0,1402.4 507.0,1390.5 517.0,1384.8 527.0,1380.4 537.1,1378.5 547.1,1393.7 557.1,1404.6 567.1,1406.8 577.0,1396.9 587.0,1390.8 597.0,1390.5 607.0,1390.5 617.0,1393.0 627.0,1405.3 637.0,1416.6 647.0,1418.6 657.0,1411.1 667.0,1410.8 677.0,1408.9 687.0,1408.9 697.0,1408.9 707.0,1416.6 717.0,1418.6 727.0,1419.1 737.0,1421.0 747.0,1418.6 757.0,1416.6 767.0,1412.9 777.0,1412.9 787.0,1412.9 797.0,1414.7 807.0,1416.6 817.0,1418.6 827.0,1422.4 837.0,1422.4 847.0,1424.4 857.0,1424.9 867.0,1426.3 877.0,1426.8 887.0,1425.3 897.0,1424.4 907.0,1424.4 917.0,1422.7 927.0,1418.4 937.0,1414.7 947.0,1408.9 957.0,1384.3 967.0,1370.4 977.0,1348.7 987.0,1342.9 997.0,1345.2 1006.9,1363.8 1017.0,1377.3 1026.9,1399.1 1037.0,1407.8 1047.1,1403.1 1057.0,1403.1 1067.1,1404.8 1077.0,1404.8 1087.0,1403.1 1097.0,1410.7 1107.0,1413.0 1117.0,1413.0 1127.0,1410.7 1137.0,1410.7 1147.0,1413.0 1157.0,1415.2 1167.0,1415.2 1177.0,1416.4 1187.0,1419.0 1197.1,1416.4 1207.0,1413.0 1217.1,1414.2 1227.0,1416.4" fill="none" stroke="#cfd1ea" stroke-width="1.9" stroke-linejoin="round"/><polyline points="0.0,1406.8 8.7,1408.9 26.1,1408.9 37.7,1404.2 47.8,1400.7 57.9,1398.8 66.6,1393.7 76.8,1386.8 86.9,1382.9 97.0,1380.7 107.2,1377.1 117.3,1374.9 136.9,1374.9 147.0,1377.8 157.2,1380.7 166.6,1385.0 176.7,1385.0 186.8,1386.8 197.0,1390.8 207.1,1395.2 217.3,1395.2 227.4,1395.5 237.5,1397.2 248.7,1398.4 257.4,1400.7 267.5,1400.7 277.7,1398.8 287.8,1400.7 297.9,1400.7 306.6,1402.4 316.8,1405.0 337.0,1405.0 347.2,1406.8 367.5,1406.8 376.9,1408.9 387.0,1408.9 397.2,1406.8 416.7,1406.8 426.9,1408.9 437.0,1409.4 447.1,1410.8 457.3,1408.9 467.4,1411.1 477.5,1412.9 487.0,1412.9 497.0,1406.8 507.0,1401.0 517.0,1399.2 527.0,1398.8 537.1,1396.6 567.1,1396.6 577.0,1389.1 587.0,1384.8 597.0,1390.8 607.0,1396.9 617.0,1400.7 627.0,1402.7 637.0,1404.6 647.0,1404.6 657.0,1400.7 667.0,1400.7 677.0,1408.2 687.0,1412.6 697.0,1412.9 707.0,1414.7 737.0,1414.7 747.0,1412.9 757.0,1416.6 767.0,1416.6 827.2,1416.6 837.0,1418.6 847.0,1420.5 857.0,1420.5 867.0,1422.7 877.0,1424.9 887.0,1424.9 917.0,1424.9 927.0,1423.4 937.0,1421.0 947.0,1416.6 957.0,1404.8 967.0,1397.3 977.0,1383.4 987.0,1378.7 997.0,1377.3 1006.9,1375.3 1017.0,1373.0 1026.9,1374.7 1037.0,1374.7 1047.1,1373.0 1057.0,1382.6 1067.1,1390.4 1077.0,1400.3 1087.0,1404.8 1097.0,1406.9 1107.0,1407.2 1117.0,1409.0 1127.0,1409.0 1137.0,1406.9 1147.0,1410.7 1157.0,1413.0 1177.0,1413.0 1187.0,1415.2 1207.0,1415.2 1217.1,1414.7 1227.0,1417.0" fill="none" stroke="#f6e82c" stroke-width="1.9" stroke-linejoin="round"/><rect x="0" y="200" width="1082" height="38" fill="#171a2c" fill-opacity="0.3"/><line x1="0" y1="755" x2="1556" y2="755" stroke="#8d92a3" stroke-width="2" stroke-dasharray="8 12" stroke-dashoffset="0.4"/><line x1="985" y1="127" x2="985" y2="1214" stroke="#8d92a3" stroke-width="2" stroke-dasharray="8 12" stroke-dashoffset="0"/><line x1="985" y1="1254" x2="985" y2="1444" stroke="#8d92a3" stroke-width="2" stroke-dasharray="8 12" stroke-dashoffset="0"/></svg>
<div class="t" style="left:5.48px;top:131.95px;font-size:21.5px;color:#c9cce0;transform:scaleX(1.0186);"><span style="font-size:0.94em;position:relative;top:1.1px">时间</span>:2020-03-16 06:30</div>
<div class="t" style="left:236.66px;top:131.45px;font-size:21.5px;color:#c9cce0;transform:scaleX(1.0367);"><span style="font-size:0.94em;position:relative;top:1.1px">开</span>:2.0487</div>
<div class="t" style="left:342.56px;top:131.95px;font-size:21.5px;color:#c9cce0;transform:scaleX(1.04);"><span style="font-size:0.94em;position:relative;top:1.1px">高</span>:2.0533</div>
<div class="t" style="left:449.0px;top:131.95px;font-size:21.5px;color:#c9cce0;transform:scaleX(1.0187);"><span style="font-size:0.94em;position:relative;top:1.1px">低</span>:2.0261</div>
<div class="t" style="left:554.27px;top:131.95px;font-size:21.5px;color:#c9cce0;transform:scaleX(1.0344);"><span style="font-size:0.94em;position:relative;top:1.1px">收</span>:2.0533</div>
<div class="t" style="left:659.82px;top:131.95px;font-size:21.5px;color:#c9cce0;transform:scaleX(1.0818);"><span style="font-size:0.94em;position:relative;top:1.1px">涨幅</span>:</div>
<div class="t" style="left:778.99px;top:131.95px;font-size:21.5px;color:#c9cce0;transform:scaleX(1.0142);"><span style="font-size:0.94em;position:relative;top:1.1px">振幅</span>:1.34%</div>
<div class="t" style="left:709.52px;top:131.75px;font-size:21.5px;color:#12c088;transform:scaleX(0.9831);">0.22%</div>
<div class="t" style="left:5.54px;top:166.35px;font-size:22px;color:#c9cce0;transform:scaleX(0.9616);">BOLL(20,2)</div>
<div style="position:absolute;left:130px;top:168px;width:28px;height:28px;background:#283152;"></div>
<svg style="position:absolute;left:130px;top:168px" width="28" height="28"><g fill="#1b2034"><circle cx="14" cy="14" r="8.6"/><rect x="11.6" y="2.6" width="4.8" height="6" rx="0.8" transform="rotate(0 14 14)"/><rect x="11.6" y="2.6" width="4.8" height="6" rx="0.8" transform="rotate(45 14 14)"/><rect x="11.6" y="2.6" width="4.8" height="6" rx="0.8" transform="rotate(90 14 14)"/><rect x="11.6" y="2.6" width="4.8" height="6" rx="0.8" transform="rotate(135 14 14)"/><rect x="11.6" y="2.6" width="4.8" height="6" rx="0.8" transform="rotate(180 14 14)"/><rect x="11.6" y="2.6" width="4.8" height="6" rx="0.8" transform="rotate(225 14 14)"/><rect x="11.6" y="2.6" width="4.8" height="6" rx="0.8" transform="rotate(270 14 14)"/><rect x="11.6" y="2.6" width="4.8" height="6" rx="0.8" transform="rotate(315 14 14)"/></g><circle cx="14" cy="14" r="3.6" fill="#283152"/></svg>
<div style="position:absolute;left:168px;top:168px;width:28px;height:28px;background:#283152;"></div>
<svg style="position:absolute;left:168px;top:168px" width="28" height="28"><path d="M5.5,5.5 L22.5,22.5 M22.5,5.5 L5.5,22.5" stroke="#1b2034" stroke-width="3.6"/></svg>
<div class="t" style="left:207.03px;top:166.35px;font-size:22px;color:#c9cce0;transform:scaleX(0.9656);">BOLL:2.0356</div>
<div class="t" style="left:343.63px;top:166.35px;font-size:22px;color:#f0e22b;transform:scaleX(0.9735);">UB:2.1045</div>
<div class="t" style="left:454.92px;top:166.35px;font-size:22px;color:#e04bb9;transform:scaleX(0.9768);">LB:1.9666</div>
<div class="t" style="left:5.49px;top:201.65px;font-size:22px;color:#c9cce0;transform:scaleX(1.0125);">MA</div>
<div style="position:absolute;left:55px;top:204px;width:28px;height:28px;background:#283152;"></div>
<svg style="position:absolute;left:55px;top:204px" width="28" height="28"><g fill="#1b2034"><circle cx="14" cy="14" r="8.6"/><rect x="11.6" y="2.6" width="4.8" height="6" rx="0.8" transform="rotate(0 14 14)"/><rect x="11.6" y="2.6" width="4.8" height="6" rx="0.8" transform="rotate(45 14 14)"/><rect x="11.6" y="2.6" width="4.8" height="6" rx="0.8" transform="rotate(90 14 14)"/><rect x="11.6" y="2.6" width="4.8" height="6" rx="0.8" transform="rotate(135 14 14)"/><rect x="11.6" y="2.6" width="4.8" height="6" rx="0.8" transform="rotate(180 14 14)"/><rect x="11.6" y="2.6" width="4.8" height="6" rx="0.8" transform="rotate(225 14 14)"/><rect x="11.6" y="2.6" width="4.8" height="6" rx="0.8" transform="rotate(270 14 14)"/><rect x="11.6" y="2.6" width="4.8" height="6" rx="0.8" transform="rotate(315 14 14)"/></g><circle cx="14" cy="14" r="3.6" fill="#283152"/></svg>
<div style="position:absolute;left:93px;top:204px;width:28px;height:28px;background:#283152;"></div>
<svg style="position:absolute;left:93px;top:204px" width="28" height="28"><path d="M5.5,5.5 L22.5,22.5 M22.5,5.5 L5.5,22.5" stroke="#1b2034" stroke-width="3.6"/></svg>
<div class="t" style="left:131.4px;top:201.65px;font-size:22px;color:#c9cce0;">MA(5):2.0821</div>
<div class="t" style="left:276.99px;top:201.65px;font-size:22px;color:#f0e22b;transform:scaleX(1.0056);">MA(10):2.0530</div>
<div class="t" style="left:434.6px;top:201.65px;font-size:22px;color:#e04bb9;">MA(30):2.0297</div>
<div class="t" style="left:591.7px;top:201.65px;font-size:22px;color:#2eaee8;transform:scaleX(1.0042);">MA(60):2.0257</div>
<div class="t" style="left:749.2px;top:201.65px;font-size:22px;color:#a9d883;transform:scaleX(1.0045);">MA(120):2.0087</div>
<div class="t" style="left:918.89px;top:201.65px;font-size:22px;color:#f28f8b;transform:scaleX(1.0077);">MA(240):2.0106</div>
<div class="t" style="left:869.98px;top:166.35px;font-size:22px;color:#c9cce0;transform:scaleX(1.0189);">2.149</div>
<div class="t" style="left:97.13px;top:948.35px;font-size:22px;color:#c9cce0;transform:scaleX(0.9712);">1.9329</div>
<svg style="position:absolute;left:930px;top:174px" width="24" height="18"><path d="M5,9.5 L19,9.5 M14.5,4.8 L19,9.5 L14.5,14.2" stroke="#c9cce0" stroke-width="2.2" fill="none"/></svg>
<svg style="position:absolute;left:72px;top:954px" width="24" height="18"><path d="M3,9.5 L17,9.5 M8,4.5 L3,9.5 L8,14.5" stroke="#c9cce0" stroke-width="1.8" fill="none"/></svg>
<div class="t" style="left:1621.69px;top:210.5px;font-size:22px;color:#a7abc8;transform:scaleX(1.0077);">2.1362</div>
<div class="t" style="left:1621.71px;top:310.5px;font-size:22px;color:#a7abc8;transform:scaleX(0.9924);">2.1075</div>
<div class="t" style="left:1621.71px;top:410.5px;font-size:22px;color:#a7abc8;transform:scaleX(0.9924);">2.0791</div>
<div class="t" style="left:1621.68px;top:510.5px;font-size:22px;color:#a7abc8;transform:scaleX(1.0234);">2.0511</div>
<div class="t" style="left:1621.71px;top:610.5px;font-size:22px;color:#a7abc8;transform:scaleX(0.9924);">2.0235</div>
<div class="t" style="left:1622.62px;top:710.5px;font-size:22px;color:#a7abc8;transform:scaleX(0.9788);">1.9963</div>
<div class="t" style="left:1622.62px;top:810.5px;font-size:22px;color:#a7abc8;transform:scaleX(0.9788);">1.9694</div>
<div class="t" style="left:1622.62px;top:910.5px;font-size:22px;color:#a7abc8;transform:scaleX(0.9788);">1.9429</div>
<div class="t" style="left:5.53px;top:1032.2px;font-size:22px;color:#c9cce0;transform:scaleX(0.9702);">MACD(12,26,9)</div>
<div style="position:absolute;left:164px;top:1034px;width:28px;height:28px;background:#283152;"></div>
<svg style="position:absolute;left:164px;top:1034px" width="28" height="28"><g fill="#1b2034"><circle cx="14" cy="14" r="8.6"/><rect x="11.6" y="2.6" width="4.8" height="6" rx="0.8" transform="rotate(0 14 14)"/><rect x="11.6" y="2.6" width="4.8" height="6" rx="0.8" transform="rotate(45 14 14)"/><rect x="11.6" y="2.6" width="4.8" height="6" rx="0.8" transform="rotate(90 14 14)"/><rect x="11.6" y="2.6" width="4.8" height="6" rx="0.8" transform="rotate(135 14 14)"/><rect x="11.6" y="2.6" width="4.8" height="6" rx="0.8" transform="rotate(180 14 14)"/><rect x="11.6" y="2.6" width="4.8" height="6" rx="0.8" transform="rotate(225 14 14)"/><rect x="11.6" y="2.6" width="4.8" height="6" rx="0.8" transform="rotate(270 14 14)"/><rect x="11.6" y="2.6" width="4.8" height="6" rx="0.8" transform="rotate(315 14 14)"/></g><circle cx="14" cy="14" r="3.6" fill="#283152"/></svg>
<div style="position:absolute;left:202px;top:1034px;width:28px;height:28px;background:#283152;"></div>
<svg style="position:absolute;left:202px;top:1034px" width="28" height="28"><path d="M5.5,5.5 L22.5,22.5 M22.5,5.5 L5.5,22.5" stroke="#1b2034" stroke-width="3.6"/></svg>
<div class="t" style="left:240.63px;top:1032.35px;font-size:22px;color:#c9cce0;transform:scaleX(0.9701);">DIF:0.0142</div>
<div class="t" style="left:357.24px;top:1032.35px;font-size:22px;color:#f0e22b;transform:scaleX(0.9607);">DEA:0.0098</div>
<div class="t" style="left:482.33px;top:1032.35px;font-size:22px;color:#12c088;transform:scaleX(0.973);">MACD:0.0088</div>
<div class="t" style="left:1621.59px;top:1058.15px;font-size:22px;color:#a7abc8;transform:scaleX(1.0106);">0.0200</div>
<div class="t" style="left:1621.59px;top:1124.85px;font-size:22px;color:#a7abc8;transform:scaleX(1.0106);">0.0000</div>
<div class="t" style="left:1618.1px;top:1191.55px;font-size:22px;color:#a7abc8;">-0.0200</div>
<div class="t" style="left:17.68px;top:1218.0px;font-size:22px;color:#a7abc8;transform:scaleX(1.0219);">MA</div>
<div class="t" style="left:17.68px;top:1448.0px;font-size:22px;color:#a7abc8;transform:scaleX(1.0219);">MA</div>
<div class="t" style="left:71.23px;top:1218.0px;font-size:22px;color:#a7abc8;transform:scaleX(0.9702);">EMA</div>
<div class="t" style="left:71.23px;top:1448.0px;font-size:22px;color:#a7abc8;transform:scaleX(0.9702);">EMA</div>
<div class="t" style="left:138.6px;top:1218.0px;font-size:22px;color:#676d8f;transform:scaleX(0.9261);">VOLUME</div>
<div class="t" style="left:138.6px;top:1448.0px;font-size:22px;color:#3d8ef0;transform:scaleX(0.9261);">VOLUME</div>
<div class="t" style="left:244.03px;top:1218.0px;font-size:22px;color:#3d8ef0;transform:scaleX(0.9683);">MACD</div>
<div class="t" style="left:244.03px;top:1448.0px;font-size:22px;color:#676d8f;transform:scaleX(0.9683);">MACD</div>
<div class="t" style="left:325.89px;top:1218.0px;font-size:22px;color:#a7abc8;transform:scaleX(1.0105);">DMI</div>
<div class="t" style="left:325.89px;top:1448.0px;font-size:22px;color:#a7abc8;transform:scaleX(1.0105);">DMI</div>
<div class="t" style="left:385.93px;top:1218.0px;font-size:22px;color:#a7abc8;transform:scaleX(0.9729);">DMA</div>
<div class="t" style="left:385.93px;top:1448.0px;font-size:22px;color:#a7abc8;transform:scaleX(0.9729);">DMA</div>
<div class="t" style="left:454.7px;top:1218.0px;font-size:22px;color:#a7abc8;transform:scaleX(0.914);">TRIX</div>
<div class="t" style="left:454.7px;top:1448.0px;font-size:22px;color:#a7abc8;transform:scaleX(0.914);">TRIX</div>
<div class="t" style="left:520.27px;top:1218.0px;font-size:22px;color:#a7abc8;transform:scaleX(0.9305);">BRAR</div>
<div class="t" style="left:520.27px;top:1448.0px;font-size:22px;color:#a7abc8;transform:scaleX(0.9305);">BRAR</div>
<div class="t" style="left:596.5px;top:1218.0px;font-size:22px;color:#a7abc8;transform:scaleX(0.9167);">VR</div>
<div class="t" style="left:596.5px;top:1448.0px;font-size:22px;color:#a7abc8;transform:scaleX(0.9167);">VR</div>
<div class="t" style="left:643.37px;top:1218.0px;font-size:22px;color:#a7abc8;transform:scaleX(0.9267);">OBV</div>
<div class="t" style="left:643.37px;top:1448.0px;font-size:22px;color:#a7abc8;transform:scaleX(0.9267);">OBV</div>
<div class="t" style="left:705.95px;top:1218.0px;font-size:22px;color:#a7abc8;transform:scaleX(0.9489);">EMV</div>
<div class="t" style="left:705.95px;top:1448.0px;font-size:22px;color:#a7abc8;transform:scaleX(0.9489);">EMV</div>
<div class="t" style="left:771.68px;top:1218.0px;font-size:22px;color:#a7abc8;transform:scaleX(0.9206);">RSI</div>
<div class="t" style="left:771.68px;top:1448.0px;font-size:22px;color:#a7abc8;transform:scaleX(0.9206);">RSI</div>
<div class="t" style="left:824.8px;top:1218.0px;font-size:22px;color:#a7abc8;transform:scaleX(0.9083);">WR</div>
<div class="t" style="left:824.8px;top:1448.0px;font-size:22px;color:#a7abc8;transform:scaleX(0.9083);">WR</div>
<div class="t" style="left:876.86px;top:1218.0px;font-size:22px;color:#a7abc8;transform:scaleX(0.9442);">SAR</div>
<div class="t" style="left:876.86px;top:1448.0px;font-size:22px;color:#a7abc8;transform:scaleX(0.9442);">SAR</div>
<div class="t" style="left:938.2px;top:1218.0px;font-size:22px;color:#a7abc8;">KDJ</div>
<div class="t" style="left:938.2px;top:1448.0px;font-size:22px;color:#a7abc8;">KDJ</div>
<div class="t" style="left:998.61px;top:1218.0px;font-size:22px;color:#a7abc8;transform:scaleX(0.8872);">ROC</div>
<div class="t" style="left:998.61px;top:1448.0px;font-size:22px;color:#a7abc8;transform:scaleX(0.8872);">ROC</div>
<div class="t" style="left:1061.46px;top:1218.0px;font-size:22px;color:#a7abc8;transform:scaleX(1.0375);">MTM</div>
<div class="t" style="left:1061.46px;top:1448.0px;font-size:22px;color:#a7abc8;transform:scaleX(1.0375);">MTM</div>
<div class="t" style="left:1133.07px;top:1218.0px;font-size:22px;color:#a7abc8;transform:scaleX(0.9273);">BOLL</div>
<div class="t" style="left:1133.07px;top:1448.0px;font-size:22px;color:#a7abc8;transform:scaleX(0.9273);">BOLL</div>
<div class="t" style="left:1205.47px;top:1218.0px;font-size:22px;color:#a7abc8;transform:scaleX(0.931);">PSY</div>
<div class="t" style="left:1205.47px;top:1448.0px;font-size:22px;color:#a7abc8;transform:scaleX(0.931);">PSY</div>
<div class="t" style="left:1264.82px;top:1218.5px;font-size:22px;color:#a7abc8;transform:scaleX(0.9756);">StochRSI</div>
<div class="t" style="left:1264.82px;top:1448.5px;font-size:22px;color:#a7abc8;transform:scaleX(0.9756);">StochRSI</div>
<div class="t" style="left:1373.35px;top:1218.0px;font-size:22px;color:#a7abc8;transform:scaleX(1.0472);">SMI</div>
<div class="t" style="left:1373.35px;top:1448.0px;font-size:22px;color:#a7abc8;transform:scaleX(1.0472);">SMI</div>
<div class="t" style="left:1432.36px;top:1218.0px;font-size:22px;color:#a7abc8;transform:scaleX(0.9429);">CCI</div>
<div class="t" style="left:1432.36px;top:1448.0px;font-size:22px;color:#a7abc8;transform:scaleX(0.9429);">CCI</div>
<div class="t" style="left:1486.98px;top:1218.0px;font-size:22px;color:#a7abc8;transform:scaleX(1.0171);">MFI</div>
<div class="t" style="left:1486.98px;top:1448.0px;font-size:22px;color:#a7abc8;transform:scaleX(1.0171);">MFI</div>
<div class="t" style="left:6.4px;top:1258.55px;font-size:22px;color:#c9cce0;transform:scaleX(0.9283);">VOLUME</div>
<div style="position:absolute;left:102px;top:1260px;width:28px;height:28px;background:#283152;"></div>
<svg style="position:absolute;left:102px;top:1260px" width="28" height="28"><g fill="#1b2034"><circle cx="14" cy="14" r="8.6"/><rect x="11.6" y="2.6" width="4.8" height="6" rx="0.8" transform="rotate(0 14 14)"/><rect x="11.6" y="2.6" width="4.8" height="6" rx="0.8" transform="rotate(45 14 14)"/><rect x="11.6" y="2.6" width="4.8" height="6" rx="0.8" transform="rotate(90 14 14)"/><rect x="11.6" y="2.6" width="4.8" height="6" rx="0.8" transform="rotate(135 14 14)"/><rect x="11.6" y="2.6" width="4.8" height="6" rx="0.8" transform="rotate(180 14 14)"/><rect x="11.6" y="2.6" width="4.8" height="6" rx="0.8" transform="rotate(225 14 14)"/><rect x="11.6" y="2.6" width="4.8" height="6" rx="0.8" transform="rotate(270 14 14)"/><rect x="11.6" y="2.6" width="4.8" height="6" rx="0.8" transform="rotate(315 14 14)"/></g><circle cx="14" cy="14" r="3.6" fill="#283152"/></svg>
<div style="position:absolute;left:140px;top:1260px;width:28px;height:28px;background:#283152;"></div>
<svg style="position:absolute;left:140px;top:1260px" width="28" height="28"><path d="M5.5,5.5 L22.5,22.5 M22.5,5.5 L5.5,22.5" stroke="#1b2034" stroke-width="3.6"/></svg>
<div class="t" style="left:179.7px;top:1258.55px;font-size:22px;color:#c9cce0;transform:scaleX(0.9602);">VOLUME:861,511.6921</div>
<div class="t" style="left:414.81px;top:1258.05px;font-size:22px;color:#c9cce0;transform:scaleX(0.994);">MA(5):1,263,473.2828</div>
<div class="t" style="left:642.19px;top:1258.05px;font-size:22px;color:#f0e22b;transform:scaleX(1.0076);">MA(10):766,121.1109</div>
<div class="t" style="left:1630.86px;top:1274.7px;font-size:22px;color:#a7abc8;transform:scaleX(1.0435);">2.0M</div>
<div class="t" style="left:1631.67px;top:1346.7px;font-size:22px;color:#a7abc8;transform:scaleX(1.0261);">1.0M</div>
<div style="position:absolute;left:1596px;top:626px;width:120px;height:40px;background:#c05353;"></div>
<svg style="position:absolute;left:1596px;top:626px" width="24" height="40"><polygon points="2,0 14,0 2,19" fill="#ff6a6a" fill-opacity="0.45"/><polygon points="2,22 2,40 18,40" fill="#d08070" fill-opacity="0.35"/></svg>
<div style="position:absolute;left:1596px;top:645px;width:12px;height:2px;background:#ffffff;"></div>
<div class="t" style="left:1621.8px;top:631.05px;font-size:22px;color:#ffffff;">2.0179</div>
<div style="position:absolute;left:1556px;top:734px;width:160px;height:40px;background:rgba(50,54,68,0.85);"></div>
<div class="t" style="left:1622.6px;top:738.25px;font-size:22px;color:#d4d6e6;transform:scaleX(1.0031);">1.9887</div>
<div style="position:absolute;left:1566.5px;top:752.8px;width:18.5px;height:3.2px;background:#d4d6e6;"></div>
<div style="position:absolute;left:1574.2px;top:745.5px;width:3.2px;height:17.8px;background:#d4d6e6;"></div>
<svg style="position:absolute;left:1696px;top:756px" width="30" height="80"><polygon points="12.5,21 21,29.5 18,32.5 12.5,38 4,29.5" fill="#f39b2a"/><rect x="20" y="1.4" width="12" height="76" rx="3" fill="#3a4068"/><polygon points="22,32 22,47.5 30,39.7" fill="#6e799f"/></svg>
<div style="position:absolute;left:1596px;top:1412px;width:118px;height:40px;background:#c88a29;"></div>
<div style="position:absolute;left:1596px;top:1431px;width:12px;height:2px;background:#ffffff;"></div>
<div class="t" style="left:1628.4px;top:1416.8px;font-size:22px;color:#ffffff;">37.2k</div>
<div class="t" style="left:233.98px;top:1491.5px;font-size:22px;color:#a7abc8;transform:scaleX(1.0217);">12</div>
<div class="t" style="left:472.98px;top:1491.5px;font-size:22px;color:#a7abc8;transform:scaleX(1.0217);">18</div>
<div class="t" style="left:691.5px;top:1492.0px;font-size:22px;color:#a7abc8;transform:scaleX(1.0703);font-weight:bold;">3月 16</div>
<div class="t" style="left:1193.43px;top:1491.5px;font-size:22px;color:#a7abc8;transform:scaleX(1.0652);">12</div>
<div class="t" style="left:1433.48px;top:1491.5px;font-size:22px;color:#a7abc8;transform:scaleX(1.0217);">18</div>
<div style="position:absolute;left:874px;top:1488px;width:225px;height:36px;background:#2d313f;"></div>
<div class="t" style="left:885.51px;top:1491.5px;font-size:22px;color:#c9cce0;transform:scaleX(0.9852);">2020-03-16 06:30:00</div>
<div style="position:absolute;left:857.5px;top:1527.8px;width:75px;height:1.2px;background:#3d4270;"></div>
<div class="t" style="left:1537.99px;top:1493.5px;font-size:24px;color:#3a8ee6;transform:scaleX(1.0109);">对数</div>
<div class="t" style="left:1607.5px;top:1493.65px;font-size:22px;color:#a7abc8;transform:scaleX(0.8105);">%</div>
<div class="t" style="left:1641.46px;top:1493.5px;font-size:24px;color:#3a8ee6;transform:scaleX(1.0605);">自动</div>
</body></html>
